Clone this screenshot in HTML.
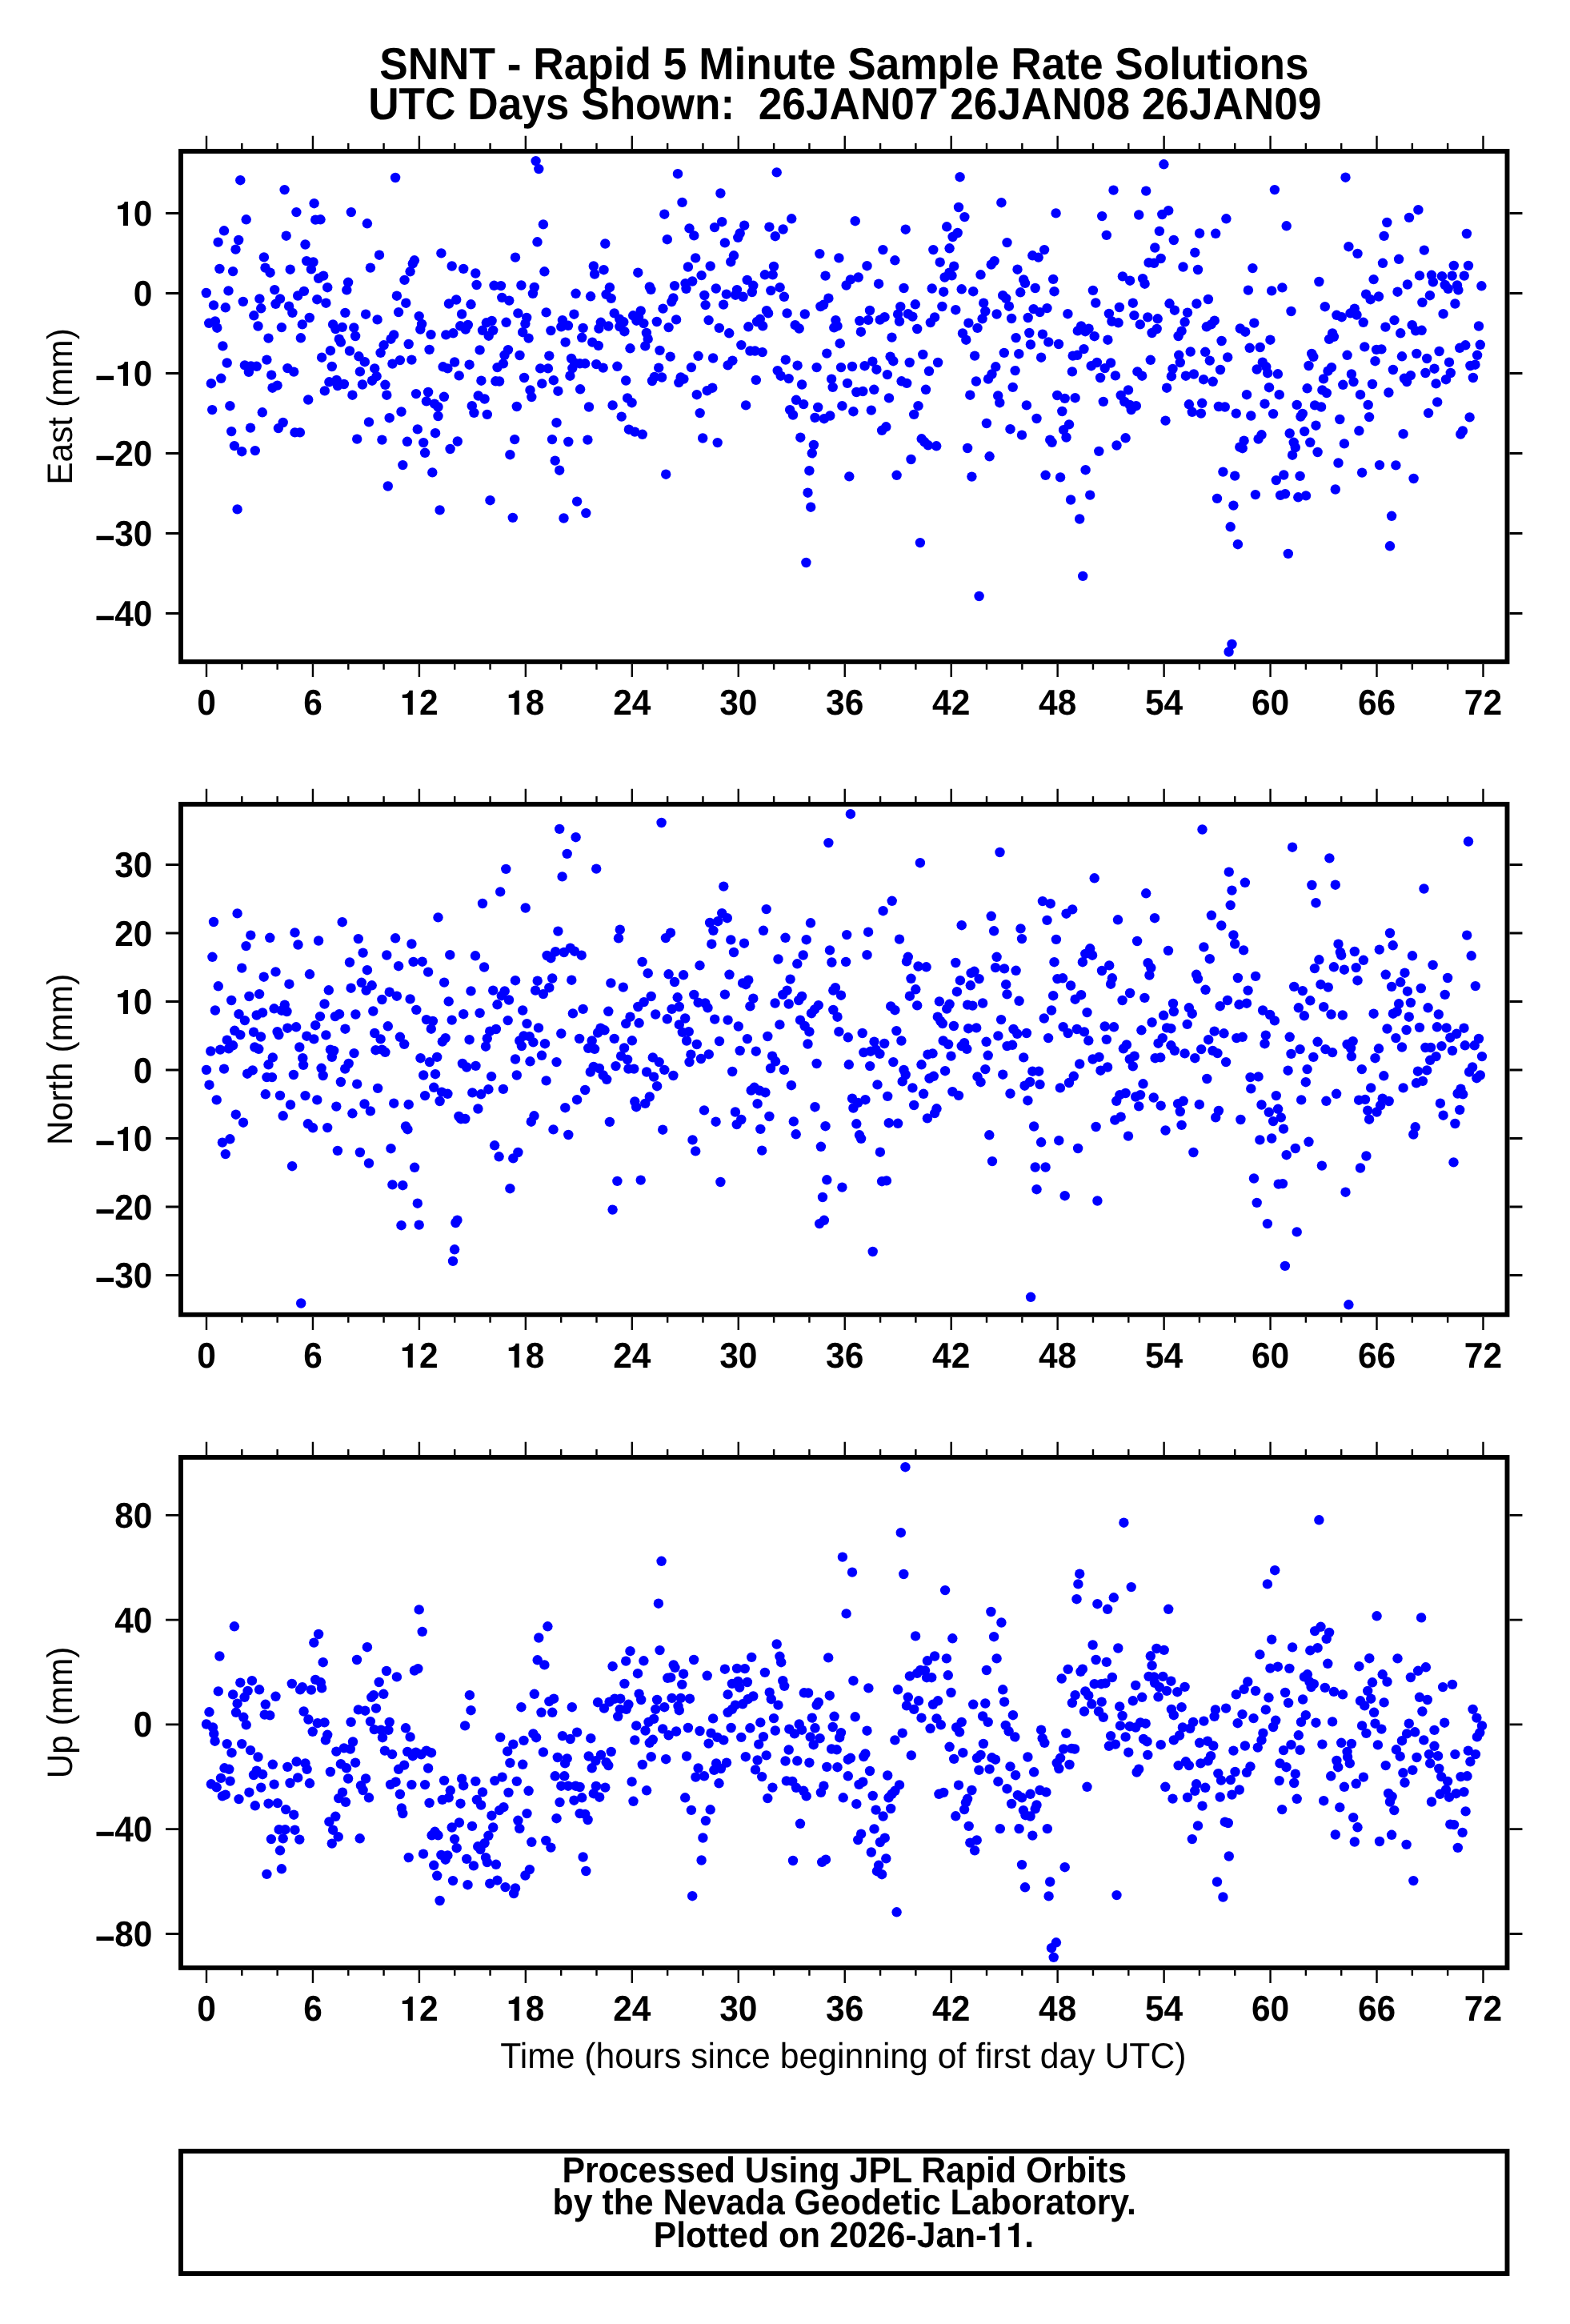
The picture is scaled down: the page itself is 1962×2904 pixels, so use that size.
<!DOCTYPE html>
<html><head><meta charset="utf-8"><title>SNNT</title>
<style>
html,body{margin:0;padding:0;background:#fff}
svg{display:block;will-change:transform}
text{text-rendering:geometricPrecision;font-family:"Liberation Sans",sans-serif;fill:#000}
.b{font-weight:bold}
.d circle{r:6.2px}
</style></head><body>
<svg width="1962" height="2904" viewBox="0 0 1962 2904">
<rect width="1962" height="2904" fill="#fff"/>
<text class="b" font-size="53.2" text-anchor="middle" transform="translate(1054.90 98.90) scale(1 1.057)">SNNT - Rapid 5 Minute Sample Rate Solutions</text>
<text class="b" font-size="53.2" text-anchor="middle" transform="translate(1055.80 148.85) scale(1 1.057)" xml:space="preserve">UTC Days Shown:  26JAN07 26JAN08 26JAN09</text>
<path d="M258.00 186.05v-16.2M258.00 829.85v16.2M302.32 186.05v-7.0M302.32 829.85v7.0M346.64 186.05v-7.0M346.64 829.85v7.0M390.96 186.05v-16.2M390.96 829.85v16.2M435.28 186.05v-7.0M435.28 829.85v7.0M479.59 186.05v-7.0M479.59 829.85v7.0M523.91 186.05v-16.2M523.91 829.85v16.2M568.23 186.05v-7.0M568.23 829.85v7.0M612.55 186.05v-7.0M612.55 829.85v7.0M656.87 186.05v-16.2M656.87 829.85v16.2M701.19 186.05v-7.0M701.19 829.85v7.0M745.51 186.05v-7.0M745.51 829.85v7.0M789.83 186.05v-16.2M789.83 829.85v16.2M834.14 186.05v-7.0M834.14 829.85v7.0M878.46 186.05v-7.0M878.46 829.85v7.0M922.78 186.05v-16.2M922.78 829.85v16.2M967.10 186.05v-7.0M967.10 829.85v7.0M1011.42 186.05v-7.0M1011.42 829.85v7.0M1055.74 186.05v-16.2M1055.74 829.85v16.2M1100.06 186.05v-7.0M1100.06 829.85v7.0M1144.38 186.05v-7.0M1144.38 829.85v7.0M1188.69 186.05v-16.2M1188.69 829.85v16.2M1233.01 186.05v-7.0M1233.01 829.85v7.0M1277.33 186.05v-7.0M1277.33 829.85v7.0M1321.65 186.05v-16.2M1321.65 829.85v16.2M1365.97 186.05v-7.0M1365.97 829.85v7.0M1410.29 186.05v-7.0M1410.29 829.85v7.0M1454.61 186.05v-16.2M1454.61 829.85v16.2M1498.93 186.05v-7.0M1498.93 829.85v7.0M1543.25 186.05v-7.0M1543.25 829.85v7.0M1587.56 186.05v-16.2M1587.56 829.85v16.2M1631.88 186.05v-7.0M1631.88 829.85v7.0M1676.20 186.05v-7.0M1676.20 829.85v7.0M1720.52 186.05v-16.2M1720.52 829.85v16.2M1764.84 186.05v-7.0M1764.84 829.85v7.0M1809.16 186.05v-7.0M1809.16 829.85v7.0M1853.48 186.05v-16.2M1853.48 829.85v16.2" stroke="#000" stroke-width="2.4" fill="none"/>
<path d="M223.05 266.50h-16M1886.45 266.50h16M223.05 366.50h-16M1886.45 366.50h16M223.05 466.50h-16M1886.45 466.50h16M223.05 566.50h-16M1886.45 566.50h16M223.05 666.50h-16M1886.45 666.50h16M223.05 766.50h-16M1886.45 766.50h16" stroke="#000" stroke-width="2.8" fill="none"/>
<g class="d" fill="#0000ff" id="p0">
<circle cx="300.3" cy="225.2" r="6.2"/>
<circle cx="494.1" cy="222.0" r="6.2"/>
<circle cx="355.6" cy="237.1" r="6.2"/>
<circle cx="392.6" cy="254.2" r="6.2"/>
<circle cx="370.4" cy="265.1" r="6.2"/>
<circle cx="438.8" cy="265.1" r="6.2"/>
<circle cx="307.7" cy="274.3" r="6.2"/>
<circle cx="394.2" cy="274.6" r="6.2"/>
<circle cx="400.5" cy="274.3" r="6.2"/>
<circle cx="458.9" cy="279.3" r="6.2"/>
<circle cx="280.0" cy="288.3" r="6.2"/>
<circle cx="357.7" cy="294.7" r="6.2"/>
<circle cx="298.2" cy="300.0" r="6.2"/>
<circle cx="272.6" cy="302.6" r="6.2"/>
<circle cx="381.5" cy="305.5" r="6.2"/>
<circle cx="294.5" cy="311.6" r="6.2"/>
<circle cx="551.4" cy="316.4" r="6.2"/>
<circle cx="474.0" cy="318.7" r="6.2"/>
<circle cx="329.9" cy="321.4" r="6.2"/>
<circle cx="644.0" cy="321.6" r="6.2"/>
<circle cx="383.1" cy="326.1" r="6.2"/>
<circle cx="391.5" cy="327.5" r="6.2"/>
<circle cx="517.9" cy="325.3" r="6.2"/>
<circle cx="515.8" cy="329.3" r="6.2"/>
<circle cx="564.7" cy="332.5" r="6.2"/>
<circle cx="274.4" cy="335.9" r="6.2"/>
<circle cx="579.2" cy="335.9" r="6.2"/>
<circle cx="462.9" cy="334.6" r="6.2"/>
<circle cx="362.7" cy="336.7" r="6.2"/>
<circle cx="331.5" cy="334.6" r="6.2"/>
<circle cx="291.1" cy="339.1" r="6.2"/>
<circle cx="337.6" cy="340.7" r="6.2"/>
<circle cx="388.9" cy="336.4" r="6.2"/>
<circle cx="512.6" cy="339.3" r="6.2"/>
<circle cx="594.3" cy="341.5" r="6.2"/>
<circle cx="404.2" cy="344.6" r="6.2"/>
<circle cx="398.1" cy="347.8" r="6.2"/>
<circle cx="505.5" cy="349.9" r="6.2"/>
<circle cx="435.1" cy="352.8" r="6.2"/>
<circle cx="595.6" cy="356.0" r="6.2"/>
<circle cx="617.5" cy="356.8" r="6.2"/>
<circle cx="626.0" cy="357.1" r="6.2"/>
<circle cx="409.2" cy="359.2" r="6.2"/>
<circle cx="343.2" cy="362.1" r="6.2"/>
<circle cx="433.3" cy="362.3" r="6.2"/>
<circle cx="285.5" cy="363.4" r="6.2"/>
<circle cx="379.9" cy="363.9" r="6.2"/>
<circle cx="257.8" cy="366.0" r="6.2"/>
<circle cx="372.2" cy="369.5" r="6.2"/>
<circle cx="495.9" cy="369.7" r="6.2"/>
<circle cx="627.3" cy="371.9" r="6.2"/>
<circle cx="636.3" cy="375.6" r="6.2"/>
<circle cx="324.4" cy="373.4" r="6.2"/>
<circle cx="350.0" cy="373.4" r="6.2"/>
<circle cx="396.3" cy="374.2" r="6.2"/>
<circle cx="570.2" cy="374.5" r="6.2"/>
<circle cx="303.8" cy="376.9" r="6.2"/>
<circle cx="407.4" cy="378.7" r="6.2"/>
<circle cx="507.3" cy="378.7" r="6.2"/>
<circle cx="344.5" cy="379.8" r="6.2"/>
<circle cx="561.0" cy="379.5" r="6.2"/>
<circle cx="588.5" cy="380.3" r="6.2"/>
<circle cx="267.0" cy="381.4" r="6.2"/>
<circle cx="361.1" cy="382.7" r="6.2"/>
<circle cx="281.8" cy="384.3" r="6.2"/>
<circle cx="326.2" cy="385.3" r="6.2"/>
<circle cx="498.1" cy="390.1" r="6.2"/>
<circle cx="431.4" cy="390.9" r="6.2"/>
<circle cx="365.4" cy="390.9" r="6.2"/>
<circle cx="457.1" cy="392.7" r="6.2"/>
<circle cx="577.1" cy="392.5" r="6.2"/>
<circle cx="317.3" cy="394.3" r="6.2"/>
<circle cx="523.7" cy="395.1" r="6.2"/>
<circle cx="386.8" cy="397.0" r="6.2"/>
<circle cx="471.6" cy="399.4" r="6.2"/>
<circle cx="268.9" cy="401.5" r="6.2"/>
<circle cx="261.2" cy="403.8" r="6.2"/>
<circle cx="614.6" cy="400.9" r="6.2"/>
<circle cx="607.8" cy="403.3" r="6.2"/>
<circle cx="632.6" cy="402.8" r="6.2"/>
<circle cx="416.1" cy="405.4" r="6.2"/>
<circle cx="377.8" cy="405.4" r="6.2"/>
<circle cx="527.1" cy="404.9" r="6.2"/>
<circle cx="584.8" cy="406.0" r="6.2"/>
<circle cx="575.2" cy="407.3" r="6.2"/>
<circle cx="322.5" cy="407.5" r="6.2"/>
<circle cx="427.7" cy="408.9" r="6.2"/>
<circle cx="442.3" cy="409.4" r="6.2"/>
<circle cx="351.9" cy="409.1" r="6.2"/>
<circle cx="271.3" cy="409.7" r="6.2"/>
<circle cx="419.3" cy="411.0" r="6.2"/>
<circle cx="581.8" cy="411.5" r="6.2"/>
<circle cx="525.3" cy="411.5" r="6.2"/>
<circle cx="603.0" cy="412.8" r="6.2"/>
<circle cx="616.2" cy="412.8" r="6.2"/>
<circle cx="492.2" cy="418.4" r="6.2"/>
<circle cx="538.5" cy="418.1" r="6.2"/>
<circle cx="557.3" cy="418.4" r="6.2"/>
<circle cx="566.3" cy="416.3" r="6.2"/>
<circle cx="444.1" cy="420.0" r="6.2"/>
<circle cx="610.7" cy="419.7" r="6.2"/>
<circle cx="335.5" cy="422.6" r="6.2"/>
<circle cx="375.9" cy="422.3" r="6.2"/>
<circle cx="488.5" cy="423.7" r="6.2"/>
<circle cx="423.8" cy="423.7" r="6.2"/>
<circle cx="425.9" cy="427.6" r="6.2"/>
<circle cx="479.6" cy="431.3" r="6.2"/>
<circle cx="510.7" cy="430.0" r="6.2"/>
<circle cx="278.4" cy="432.4" r="6.2"/>
<circle cx="536.6" cy="436.9" r="6.2"/>
<circle cx="599.6" cy="437.4" r="6.2"/>
<circle cx="412.9" cy="438.2" r="6.2"/>
<circle cx="437.0" cy="438.5" r="6.2"/>
<circle cx="635.0" cy="437.1" r="6.2"/>
<circle cx="475.6" cy="440.9" r="6.2"/>
<circle cx="630.5" cy="443.8" r="6.2"/>
<circle cx="448.4" cy="445.3" r="6.2"/>
<circle cx="402.1" cy="446.7" r="6.2"/>
<circle cx="455.8" cy="452.2" r="6.2"/>
<circle cx="333.4" cy="449.6" r="6.2"/>
<circle cx="499.9" cy="450.1" r="6.2"/>
<circle cx="514.4" cy="449.6" r="6.2"/>
<circle cx="568.1" cy="452.5" r="6.2"/>
<circle cx="283.7" cy="453.5" r="6.2"/>
<circle cx="490.4" cy="454.6" r="6.2"/>
<circle cx="586.6" cy="455.7" r="6.2"/>
<circle cx="628.9" cy="454.3" r="6.2"/>
<circle cx="621.5" cy="459.1" r="6.2"/>
<circle cx="305.9" cy="456.4" r="6.2"/>
<circle cx="313.6" cy="457.5" r="6.2"/>
<circle cx="320.7" cy="457.8" r="6.2"/>
<circle cx="414.8" cy="458.0" r="6.2"/>
<circle cx="553.6" cy="458.3" r="6.2"/>
<circle cx="559.4" cy="460.4" r="6.2"/>
<circle cx="359.3" cy="460.1" r="6.2"/>
<circle cx="468.2" cy="460.4" r="6.2"/>
<circle cx="367.2" cy="464.6" r="6.2"/>
<circle cx="310.9" cy="464.9" r="6.2"/>
<circle cx="449.9" cy="464.4" r="6.2"/>
<circle cx="339.2" cy="468.6" r="6.2"/>
<circle cx="573.7" cy="469.4" r="6.2"/>
<circle cx="470.6" cy="470.2" r="6.2"/>
<circle cx="276.3" cy="472.8" r="6.2"/>
<circle cx="465.0" cy="475.7" r="6.2"/>
<circle cx="601.4" cy="475.7" r="6.2"/>
<circle cx="619.4" cy="476.3" r="6.2"/>
<circle cx="624.1" cy="476.5" r="6.2"/>
<circle cx="411.4" cy="477.3" r="6.2"/>
<circle cx="420.6" cy="474.9" r="6.2"/>
<circle cx="263.9" cy="479.2" r="6.2"/>
<circle cx="429.9" cy="480.0" r="6.2"/>
<circle cx="421.9" cy="482.1" r="6.2"/>
<circle cx="452.9" cy="480.5" r="6.2"/>
<circle cx="481.4" cy="480.8" r="6.2"/>
<circle cx="346.6" cy="481.6" r="6.2"/>
<circle cx="340.5" cy="484.7" r="6.2"/>
<circle cx="405.8" cy="488.4" r="6.2"/>
<circle cx="535.1" cy="490.0" r="6.2"/>
<circle cx="520.0" cy="492.1" r="6.2"/>
<circle cx="440.4" cy="493.7" r="6.2"/>
<circle cx="483.3" cy="493.7" r="6.2"/>
<circle cx="554.9" cy="495.8" r="6.2"/>
<circle cx="597.7" cy="494.5" r="6.2"/>
<circle cx="605.6" cy="498.5" r="6.2"/>
<circle cx="385.2" cy="499.5" r="6.2"/>
<circle cx="532.9" cy="501.4" r="6.2"/>
<circle cx="543.0" cy="504.6" r="6.2"/>
<circle cx="547.5" cy="508.5" r="6.2"/>
<circle cx="589.8" cy="507.2" r="6.2"/>
<circle cx="265.2" cy="512.1" r="6.2"/>
<circle cx="287.4" cy="507.2" r="6.2"/>
<circle cx="669.6" cy="201.1" r="6.2"/>
<circle cx="673.3" cy="211.1" r="6.2"/>
<circle cx="847.0" cy="217.2" r="6.2"/>
<circle cx="970.7" cy="215.4" r="6.2"/>
<circle cx="900.4" cy="241.5" r="6.2"/>
<circle cx="852.5" cy="252.9" r="6.2"/>
<circle cx="830.3" cy="267.7" r="6.2"/>
<circle cx="989.2" cy="273.3" r="6.2"/>
<circle cx="678.9" cy="280.4" r="6.2"/>
<circle cx="902.2" cy="277.2" r="6.2"/>
<circle cx="893.0" cy="284.1" r="6.2"/>
<circle cx="930.2" cy="281.7" r="6.2"/>
<circle cx="861.5" cy="285.4" r="6.2"/>
<circle cx="961.4" cy="283.6" r="6.2"/>
<circle cx="978.6" cy="286.5" r="6.2"/>
<circle cx="867.3" cy="294.4" r="6.2"/>
<circle cx="924.7" cy="291.5" r="6.2"/>
<circle cx="922.3" cy="296.8" r="6.2"/>
<circle cx="968.8" cy="295.2" r="6.2"/>
<circle cx="833.8" cy="299.2" r="6.2"/>
<circle cx="671.5" cy="302.3" r="6.2"/>
<circle cx="905.9" cy="303.4" r="6.2"/>
<circle cx="756.3" cy="304.5" r="6.2"/>
<circle cx="1024.3" cy="317.1" r="6.2"/>
<circle cx="1048.4" cy="322.4" r="6.2"/>
<circle cx="917.0" cy="319.3" r="6.2"/>
<circle cx="869.2" cy="322.4" r="6.2"/>
<circle cx="913.3" cy="327.2" r="6.2"/>
<circle cx="741.8" cy="332.5" r="6.2"/>
<circle cx="887.7" cy="332.5" r="6.2"/>
<circle cx="859.9" cy="333.5" r="6.2"/>
<circle cx="967.0" cy="333.0" r="6.2"/>
<circle cx="754.5" cy="337.2" r="6.2"/>
<circle cx="680.4" cy="339.3" r="6.2"/>
<circle cx="797.3" cy="340.7" r="6.2"/>
<circle cx="743.1" cy="342.5" r="6.2"/>
<circle cx="955.9" cy="343.3" r="6.2"/>
<circle cx="965.7" cy="343.3" r="6.2"/>
<circle cx="876.6" cy="344.1" r="6.2"/>
<circle cx="1031.5" cy="344.6" r="6.2"/>
<circle cx="933.7" cy="349.9" r="6.2"/>
<circle cx="865.2" cy="351.5" r="6.2"/>
<circle cx="856.5" cy="354.1" r="6.2"/>
<circle cx="651.4" cy="356.5" r="6.2"/>
<circle cx="843.0" cy="357.1" r="6.2"/>
<circle cx="667.8" cy="358.9" r="6.2"/>
<circle cx="761.9" cy="359.2" r="6.2"/>
<circle cx="811.8" cy="358.4" r="6.2"/>
<circle cx="941.3" cy="356.8" r="6.2"/>
<circle cx="1057.6" cy="356.5" r="6.2"/>
<circle cx="974.6" cy="359.2" r="6.2"/>
<circle cx="894.8" cy="360.5" r="6.2"/>
<circle cx="813.4" cy="361.8" r="6.2"/>
<circle cx="857.5" cy="360.8" r="6.2"/>
<circle cx="921.0" cy="362.1" r="6.2"/>
<circle cx="963.3" cy="363.1" r="6.2"/>
<circle cx="939.8" cy="365.0" r="6.2"/>
<circle cx="719.6" cy="366.8" r="6.2"/>
<circle cx="665.9" cy="366.8" r="6.2"/>
<circle cx="907.8" cy="367.6" r="6.2"/>
<circle cx="757.6" cy="367.9" r="6.2"/>
<circle cx="880.3" cy="369.0" r="6.2"/>
<circle cx="738.1" cy="370.3" r="6.2"/>
<circle cx="919.1" cy="368.7" r="6.2"/>
<circle cx="928.6" cy="370.8" r="6.2"/>
<circle cx="979.9" cy="370.8" r="6.2"/>
<circle cx="763.7" cy="372.9" r="6.2"/>
<circle cx="1035.4" cy="372.7" r="6.2"/>
<circle cx="841.4" cy="372.4" r="6.2"/>
<circle cx="839.3" cy="377.1" r="6.2"/>
<circle cx="881.6" cy="381.1" r="6.2"/>
<circle cx="904.1" cy="380.6" r="6.2"/>
<circle cx="1029.1" cy="380.8" r="6.2"/>
<circle cx="1025.4" cy="383.0" r="6.2"/>
<circle cx="828.5" cy="385.6" r="6.2"/>
<circle cx="800.7" cy="388.5" r="6.2"/>
<circle cx="958.0" cy="388.2" r="6.2"/>
<circle cx="647.4" cy="391.4" r="6.2"/>
<circle cx="682.6" cy="390.4" r="6.2"/>
<circle cx="767.7" cy="391.4" r="6.2"/>
<circle cx="960.1" cy="391.4" r="6.2"/>
<circle cx="983.6" cy="391.4" r="6.2"/>
<circle cx="1005.8" cy="392.5" r="6.2"/>
<circle cx="717.4" cy="392.7" r="6.2"/>
<circle cx="791.2" cy="394.3" r="6.2"/>
<circle cx="658.2" cy="397.0" r="6.2"/>
<circle cx="798.1" cy="396.2" r="6.2"/>
<circle cx="845.1" cy="399.4" r="6.2"/>
<circle cx="885.6" cy="400.1" r="6.2"/>
<circle cx="702.9" cy="400.1" r="6.2"/>
<circle cx="1044.4" cy="400.1" r="6.2"/>
<circle cx="795.4" cy="400.7" r="6.2"/>
<circle cx="774.3" cy="398.8" r="6.2"/>
<circle cx="949.8" cy="398.8" r="6.2"/>
<circle cx="750.8" cy="402.8" r="6.2"/>
<circle cx="779.3" cy="402.3" r="6.2"/>
<circle cx="820.8" cy="402.0" r="6.2"/>
<circle cx="946.1" cy="402.0" r="6.2"/>
<circle cx="804.4" cy="404.1" r="6.2"/>
<circle cx="656.4" cy="404.6" r="6.2"/>
<circle cx="993.7" cy="406.2" r="6.2"/>
<circle cx="710.0" cy="406.8" r="6.2"/>
<circle cx="701.3" cy="408.3" r="6.2"/>
<circle cx="760.3" cy="407.5" r="6.2"/>
<circle cx="935.3" cy="408.3" r="6.2"/>
<circle cx="953.2" cy="407.3" r="6.2"/>
<circle cx="774.3" cy="408.1" r="6.2"/>
<circle cx="1046.5" cy="407.3" r="6.2"/>
<circle cx="1042.3" cy="409.4" r="6.2"/>
<circle cx="728.6" cy="409.9" r="6.2"/>
<circle cx="748.4" cy="410.5" r="6.2"/>
<circle cx="835.6" cy="409.1" r="6.2"/>
<circle cx="898.8" cy="409.9" r="6.2"/>
<circle cx="998.7" cy="410.5" r="6.2"/>
<circle cx="688.4" cy="413.1" r="6.2"/>
<circle cx="780.4" cy="414.2" r="6.2"/>
<circle cx="653.2" cy="415.2" r="6.2"/>
<circle cx="911.2" cy="416.3" r="6.2"/>
<circle cx="807.9" cy="416.0" r="6.2"/>
<circle cx="727.2" cy="421.8" r="6.2"/>
<circle cx="660.6" cy="422.6" r="6.2"/>
<circle cx="809.7" cy="423.7" r="6.2"/>
<circle cx="740.2" cy="427.6" r="6.2"/>
<circle cx="706.6" cy="427.6" r="6.2"/>
<circle cx="747.8" cy="431.9" r="6.2"/>
<circle cx="1049.7" cy="429.2" r="6.2"/>
<circle cx="806.3" cy="432.4" r="6.2"/>
<circle cx="926.3" cy="431.1" r="6.2"/>
<circle cx="787.5" cy="435.3" r="6.2"/>
<circle cx="824.5" cy="437.9" r="6.2"/>
<circle cx="937.4" cy="438.5" r="6.2"/>
<circle cx="943.5" cy="438.5" r="6.2"/>
<circle cx="952.7" cy="440.1" r="6.2"/>
<circle cx="1033.3" cy="441.6" r="6.2"/>
<circle cx="649.5" cy="444.0" r="6.2"/>
<circle cx="686.3" cy="444.6" r="6.2"/>
<circle cx="872.6" cy="444.8" r="6.2"/>
<circle cx="837.7" cy="445.6" r="6.2"/>
<circle cx="891.1" cy="447.5" r="6.2"/>
<circle cx="714.0" cy="448.0" r="6.2"/>
<circle cx="981.8" cy="449.6" r="6.2"/>
<circle cx="915.4" cy="450.6" r="6.2"/>
<circle cx="718.2" cy="453.5" r="6.2"/>
<circle cx="724.6" cy="454.3" r="6.2"/>
<circle cx="731.2" cy="454.3" r="6.2"/>
<circle cx="745.2" cy="455.1" r="6.2"/>
<circle cx="909.6" cy="456.4" r="6.2"/>
<circle cx="996.6" cy="456.7" r="6.2"/>
<circle cx="771.4" cy="457.8" r="6.2"/>
<circle cx="753.7" cy="459.6" r="6.2"/>
<circle cx="823.2" cy="459.6" r="6.2"/>
<circle cx="863.9" cy="459.1" r="6.2"/>
<circle cx="675.2" cy="460.4" r="6.2"/>
<circle cx="684.9" cy="460.4" r="6.2"/>
<circle cx="715.3" cy="460.1" r="6.2"/>
<circle cx="1020.6" cy="459.1" r="6.2"/>
<circle cx="1051.0" cy="459.1" r="6.2"/>
<circle cx="971.7" cy="463.1" r="6.2"/>
<circle cx="712.4" cy="469.7" r="6.2"/>
<circle cx="975.7" cy="469.7" r="6.2"/>
<circle cx="817.9" cy="471.0" r="6.2"/>
<circle cx="827.1" cy="471.5" r="6.2"/>
<circle cx="850.7" cy="471.5" r="6.2"/>
<circle cx="854.4" cy="473.6" r="6.2"/>
<circle cx="655.1" cy="472.0" r="6.2"/>
<circle cx="985.7" cy="473.1" r="6.2"/>
<circle cx="1039.1" cy="473.6" r="6.2"/>
<circle cx="691.8" cy="475.2" r="6.2"/>
<circle cx="782.2" cy="475.5" r="6.2"/>
<circle cx="815.0" cy="476.0" r="6.2"/>
<circle cx="944.8" cy="474.9" r="6.2"/>
<circle cx="848.3" cy="478.1" r="6.2"/>
<circle cx="677.3" cy="479.4" r="6.2"/>
<circle cx="1002.1" cy="480.5" r="6.2"/>
<circle cx="1040.7" cy="483.9" r="6.2"/>
<circle cx="890.3" cy="484.7" r="6.2"/>
<circle cx="725.1" cy="486.3" r="6.2"/>
<circle cx="883.7" cy="488.2" r="6.2"/>
<circle cx="662.5" cy="487.4" r="6.2"/>
<circle cx="697.4" cy="488.7" r="6.2"/>
<circle cx="870.8" cy="493.2" r="6.2"/>
<circle cx="664.3" cy="496.1" r="6.2"/>
<circle cx="784.1" cy="497.4" r="6.2"/>
<circle cx="789.6" cy="503.2" r="6.2"/>
<circle cx="995.0" cy="499.8" r="6.2"/>
<circle cx="1004.2" cy="505.1" r="6.2"/>
<circle cx="932.1" cy="506.4" r="6.2"/>
<circle cx="765.6" cy="506.4" r="6.2"/>
<circle cx="736.0" cy="508.5" r="6.2"/>
<circle cx="645.8" cy="508.0" r="6.2"/>
<circle cx="1022.2" cy="509.0" r="6.2"/>
<circle cx="987.1" cy="512.1" r="6.2"/>
<circle cx="1052.4" cy="507.2" r="6.2"/>
<circle cx="1454.4" cy="205.3" r="6.2"/>
<circle cx="1199.6" cy="221.2" r="6.2"/>
<circle cx="1391.5" cy="237.6" r="6.2"/>
<circle cx="1432.2" cy="238.6" r="6.2"/>
<circle cx="1251.4" cy="253.2" r="6.2"/>
<circle cx="1198.0" cy="259.0" r="6.2"/>
<circle cx="1319.6" cy="266.4" r="6.2"/>
<circle cx="1460.2" cy="263.2" r="6.2"/>
<circle cx="1452.3" cy="268.0" r="6.2"/>
<circle cx="1423.2" cy="268.5" r="6.2"/>
<circle cx="1377.2" cy="270.1" r="6.2"/>
<circle cx="1205.4" cy="271.1" r="6.2"/>
<circle cx="1068.7" cy="276.2" r="6.2"/>
<circle cx="1183.2" cy="283.3" r="6.2"/>
<circle cx="1131.7" cy="286.7" r="6.2"/>
<circle cx="1448.9" cy="288.9" r="6.2"/>
<circle cx="1196.7" cy="291.0" r="6.2"/>
<circle cx="1190.6" cy="296.0" r="6.2"/>
<circle cx="1382.8" cy="293.9" r="6.2"/>
<circle cx="1466.8" cy="300.0" r="6.2"/>
<circle cx="1258.5" cy="303.1" r="6.2"/>
<circle cx="1443.3" cy="309.5" r="6.2"/>
<circle cx="1186.6" cy="310.3" r="6.2"/>
<circle cx="1103.4" cy="312.1" r="6.2"/>
<circle cx="1166.3" cy="312.1" r="6.2"/>
<circle cx="1305.1" cy="312.1" r="6.2"/>
<circle cx="1290.3" cy="319.3" r="6.2"/>
<circle cx="1297.7" cy="321.6" r="6.2"/>
<circle cx="1450.7" cy="323.0" r="6.2"/>
<circle cx="1118.4" cy="325.3" r="6.2"/>
<circle cx="1242.7" cy="326.1" r="6.2"/>
<circle cx="1174.7" cy="327.7" r="6.2"/>
<circle cx="1435.6" cy="328.2" r="6.2"/>
<circle cx="1442.2" cy="328.8" r="6.2"/>
<circle cx="1238.7" cy="330.6" r="6.2"/>
<circle cx="1083.5" cy="332.2" r="6.2"/>
<circle cx="1192.2" cy="332.7" r="6.2"/>
<circle cx="1271.5" cy="336.7" r="6.2"/>
<circle cx="1186.4" cy="340.7" r="6.2"/>
<circle cx="1225.5" cy="343.3" r="6.2"/>
<circle cx="1189.5" cy="344.4" r="6.2"/>
<circle cx="1180.6" cy="346.5" r="6.2"/>
<circle cx="1072.7" cy="346.5" r="6.2"/>
<circle cx="1402.9" cy="345.4" r="6.2"/>
<circle cx="1428.0" cy="348.1" r="6.2"/>
<circle cx="1062.9" cy="349.4" r="6.2"/>
<circle cx="1316.2" cy="348.9" r="6.2"/>
<circle cx="1279.2" cy="349.4" r="6.2"/>
<circle cx="1412.1" cy="350.7" r="6.2"/>
<circle cx="1281.0" cy="353.9" r="6.2"/>
<circle cx="1098.1" cy="354.7" r="6.2"/>
<circle cx="1430.6" cy="354.7" r="6.2"/>
<circle cx="1129.5" cy="360.0" r="6.2"/>
<circle cx="1293.7" cy="360.0" r="6.2"/>
<circle cx="1164.7" cy="360.5" r="6.2"/>
<circle cx="1201.7" cy="361.3" r="6.2"/>
<circle cx="1365.9" cy="362.9" r="6.2"/>
<circle cx="1179.2" cy="364.7" r="6.2"/>
<circle cx="1216.2" cy="364.2" r="6.2"/>
<circle cx="1317.5" cy="364.2" r="6.2"/>
<circle cx="1275.2" cy="365.3" r="6.2"/>
<circle cx="1253.2" cy="369.2" r="6.2"/>
<circle cx="1257.2" cy="372.9" r="6.2"/>
<circle cx="1369.3" cy="378.5" r="6.2"/>
<circle cx="1229.2" cy="378.7" r="6.2"/>
<circle cx="1415.8" cy="378.7" r="6.2"/>
<circle cx="1461.5" cy="379.3" r="6.2"/>
<circle cx="1143.8" cy="380.3" r="6.2"/>
<circle cx="1260.9" cy="382.7" r="6.2"/>
<circle cx="1125.3" cy="383.2" r="6.2"/>
<circle cx="1177.4" cy="383.0" r="6.2"/>
<circle cx="1398.9" cy="384.0" r="6.2"/>
<circle cx="1308.5" cy="385.1" r="6.2"/>
<circle cx="1291.6" cy="386.1" r="6.2"/>
<circle cx="1194.3" cy="387.2" r="6.2"/>
<circle cx="1087.0" cy="388.0" r="6.2"/>
<circle cx="1467.9" cy="387.7" r="6.2"/>
<circle cx="1299.5" cy="390.1" r="6.2"/>
<circle cx="1231.3" cy="389.0" r="6.2"/>
<circle cx="1385.9" cy="391.9" r="6.2"/>
<circle cx="1334.4" cy="392.2" r="6.2"/>
<circle cx="1122.1" cy="392.7" r="6.2"/>
<circle cx="1245.6" cy="392.5" r="6.2"/>
<circle cx="1134.8" cy="392.2" r="6.2"/>
<circle cx="1140.4" cy="395.6" r="6.2"/>
<circle cx="1105.5" cy="396.2" r="6.2"/>
<circle cx="1168.1" cy="396.4" r="6.2"/>
<circle cx="1417.4" cy="394.1" r="6.2"/>
<circle cx="1434.3" cy="396.4" r="6.2"/>
<circle cx="1284.7" cy="397.0" r="6.2"/>
<circle cx="1099.7" cy="399.6" r="6.2"/>
<circle cx="1264.1" cy="398.0" r="6.2"/>
<circle cx="1227.6" cy="398.3" r="6.2"/>
<circle cx="1446.7" cy="398.3" r="6.2"/>
<circle cx="1085.1" cy="399.9" r="6.2"/>
<circle cx="1074.3" cy="400.9" r="6.2"/>
<circle cx="1124.0" cy="401.5" r="6.2"/>
<circle cx="1389.4" cy="401.5" r="6.2"/>
<circle cx="1397.6" cy="403.3" r="6.2"/>
<circle cx="1162.8" cy="403.1" r="6.2"/>
<circle cx="1210.4" cy="403.6" r="6.2"/>
<circle cx="1424.8" cy="405.4" r="6.2"/>
<circle cx="1351.1" cy="407.5" r="6.2"/>
<circle cx="1360.6" cy="410.7" r="6.2"/>
<circle cx="1221.5" cy="409.9" r="6.2"/>
<circle cx="1146.2" cy="411.0" r="6.2"/>
<circle cx="1445.7" cy="411.0" r="6.2"/>
<circle cx="1346.8" cy="413.4" r="6.2"/>
<circle cx="1075.9" cy="414.7" r="6.2"/>
<circle cx="1356.3" cy="414.2" r="6.2"/>
<circle cx="1439.6" cy="416.0" r="6.2"/>
<circle cx="1203.0" cy="416.5" r="6.2"/>
<circle cx="1286.3" cy="416.0" r="6.2"/>
<circle cx="1302.9" cy="417.6" r="6.2"/>
<circle cx="1367.7" cy="420.2" r="6.2"/>
<circle cx="1114.5" cy="421.6" r="6.2"/>
<circle cx="1269.6" cy="422.1" r="6.2"/>
<circle cx="1472.6" cy="420.0" r="6.2"/>
<circle cx="1207.3" cy="424.7" r="6.2"/>
<circle cx="1384.4" cy="424.7" r="6.2"/>
<circle cx="1310.3" cy="427.4" r="6.2"/>
<circle cx="1323.0" cy="430.0" r="6.2"/>
<circle cx="1287.9" cy="430.5" r="6.2"/>
<circle cx="1354.5" cy="436.1" r="6.2"/>
<circle cx="1254.8" cy="440.9" r="6.2"/>
<circle cx="1273.3" cy="442.2" r="6.2"/>
<circle cx="1153.3" cy="443.0" r="6.2"/>
<circle cx="1218.1" cy="444.6" r="6.2"/>
<circle cx="1340.7" cy="444.6" r="6.2"/>
<circle cx="1346.3" cy="443.8" r="6.2"/>
<circle cx="1112.6" cy="445.6" r="6.2"/>
<circle cx="1301.1" cy="446.7" r="6.2"/>
<circle cx="1116.3" cy="451.2" r="6.2"/>
<circle cx="1437.8" cy="449.8" r="6.2"/>
<circle cx="1090.4" cy="451.7" r="6.2"/>
<circle cx="1136.7" cy="453.0" r="6.2"/>
<circle cx="1172.1" cy="453.0" r="6.2"/>
<circle cx="1370.9" cy="453.0" r="6.2"/>
<circle cx="1388.1" cy="453.5" r="6.2"/>
<circle cx="1065.0" cy="458.0" r="6.2"/>
<circle cx="1080.6" cy="457.2" r="6.2"/>
<circle cx="1244.3" cy="458.3" r="6.2"/>
<circle cx="1363.7" cy="457.2" r="6.2"/>
<circle cx="1380.7" cy="460.1" r="6.2"/>
<circle cx="1465.5" cy="460.9" r="6.2"/>
<circle cx="1095.4" cy="461.7" r="6.2"/>
<circle cx="1268.6" cy="463.1" r="6.2"/>
<circle cx="1161.0" cy="463.8" r="6.2"/>
<circle cx="1339.9" cy="464.4" r="6.2"/>
<circle cx="1421.4" cy="464.4" r="6.2"/>
<circle cx="1239.5" cy="467.5" r="6.2"/>
<circle cx="1108.9" cy="468.1" r="6.2"/>
<circle cx="1393.9" cy="469.4" r="6.2"/>
<circle cx="1427.2" cy="469.7" r="6.2"/>
<circle cx="1463.9" cy="470.2" r="6.2"/>
<circle cx="1375.1" cy="472.0" r="6.2"/>
<circle cx="1235.0" cy="473.6" r="6.2"/>
<circle cx="1219.9" cy="476.5" r="6.2"/>
<circle cx="1126.6" cy="476.3" r="6.2"/>
<circle cx="1133.2" cy="478.9" r="6.2"/>
<circle cx="1059.0" cy="478.9" r="6.2"/>
<circle cx="1265.7" cy="483.9" r="6.2"/>
<circle cx="1458.1" cy="484.7" r="6.2"/>
<circle cx="1092.3" cy="486.8" r="6.2"/>
<circle cx="1157.0" cy="486.8" r="6.2"/>
<circle cx="1410.0" cy="487.4" r="6.2"/>
<circle cx="1070.3" cy="490.0" r="6.2"/>
<circle cx="1078.3" cy="489.0" r="6.2"/>
<circle cx="1212.3" cy="493.7" r="6.2"/>
<circle cx="1247.2" cy="494.5" r="6.2"/>
<circle cx="1321.2" cy="494.0" r="6.2"/>
<circle cx="1400.7" cy="494.0" r="6.2"/>
<circle cx="1111.0" cy="497.4" r="6.2"/>
<circle cx="1330.7" cy="497.9" r="6.2"/>
<circle cx="1343.6" cy="497.2" r="6.2"/>
<circle cx="1378.8" cy="501.9" r="6.2"/>
<circle cx="1249.3" cy="503.2" r="6.2"/>
<circle cx="1405.2" cy="501.9" r="6.2"/>
<circle cx="1147.5" cy="507.2" r="6.2"/>
<circle cx="1282.9" cy="506.4" r="6.2"/>
<circle cx="1411.8" cy="505.9" r="6.2"/>
<circle cx="1419.8" cy="507.2" r="6.2"/>
<circle cx="1088.8" cy="512.6" r="6.2"/>
<circle cx="1681.5" cy="221.7" r="6.2"/>
<circle cx="1592.9" cy="237.1" r="6.2"/>
<circle cx="1772.4" cy="262.2" r="6.2"/>
<circle cx="1761.0" cy="271.9" r="6.2"/>
<circle cx="1532.4" cy="273.3" r="6.2"/>
<circle cx="1733.3" cy="278.0" r="6.2"/>
<circle cx="1607.7" cy="282.3" r="6.2"/>
<circle cx="1499.1" cy="291.5" r="6.2"/>
<circle cx="1519.2" cy="291.8" r="6.2"/>
<circle cx="1832.9" cy="292.0" r="6.2"/>
<circle cx="1729.6" cy="294.9" r="6.2"/>
<circle cx="1685.4" cy="308.2" r="6.2"/>
<circle cx="1779.8" cy="312.6" r="6.2"/>
<circle cx="1493.3" cy="315.6" r="6.2"/>
<circle cx="1696.5" cy="316.9" r="6.2"/>
<circle cx="1748.1" cy="323.8" r="6.2"/>
<circle cx="1728.0" cy="328.8" r="6.2"/>
<circle cx="1816.8" cy="331.9" r="6.2"/>
<circle cx="1835.0" cy="331.9" r="6.2"/>
<circle cx="1478.5" cy="333.5" r="6.2"/>
<circle cx="1565.4" cy="335.1" r="6.2"/>
<circle cx="1497.0" cy="337.0" r="6.2"/>
<circle cx="1774.0" cy="344.4" r="6.2"/>
<circle cx="1789.0" cy="343.8" r="6.2"/>
<circle cx="1802.0" cy="345.2" r="6.2"/>
<circle cx="1814.7" cy="344.6" r="6.2"/>
<circle cx="1829.8" cy="344.6" r="6.2"/>
<circle cx="1716.6" cy="349.1" r="6.2"/>
<circle cx="1648.4" cy="352.0" r="6.2"/>
<circle cx="1790.9" cy="352.3" r="6.2"/>
<circle cx="1758.9" cy="355.5" r="6.2"/>
<circle cx="1805.7" cy="356.0" r="6.2"/>
<circle cx="1821.0" cy="356.5" r="6.2"/>
<circle cx="1851.4" cy="357.3" r="6.2"/>
<circle cx="1602.4" cy="359.4" r="6.2"/>
<circle cx="1809.7" cy="360.8" r="6.2"/>
<circle cx="1559.9" cy="362.6" r="6.2"/>
<circle cx="1589.2" cy="363.4" r="6.2"/>
<circle cx="1822.4" cy="362.3" r="6.2"/>
<circle cx="1746.5" cy="364.7" r="6.2"/>
<circle cx="1707.1" cy="367.6" r="6.2"/>
<circle cx="1786.9" cy="369.2" r="6.2"/>
<circle cx="1723.0" cy="370.5" r="6.2"/>
<circle cx="1509.9" cy="374.0" r="6.2"/>
<circle cx="1712.7" cy="374.2" r="6.2"/>
<circle cx="1777.4" cy="377.9" r="6.2"/>
<circle cx="1495.4" cy="379.5" r="6.2"/>
<circle cx="1818.4" cy="379.5" r="6.2"/>
<circle cx="1655.8" cy="383.2" r="6.2"/>
<circle cx="1692.8" cy="385.6" r="6.2"/>
<circle cx="1613.5" cy="389.0" r="6.2"/>
<circle cx="1484.0" cy="390.6" r="6.2"/>
<circle cx="1687.5" cy="391.4" r="6.2"/>
<circle cx="1803.6" cy="392.2" r="6.2"/>
<circle cx="1670.4" cy="393.8" r="6.2"/>
<circle cx="1695.5" cy="393.5" r="6.2"/>
<circle cx="1676.7" cy="396.2" r="6.2"/>
<circle cx="1742.5" cy="400.1" r="6.2"/>
<circle cx="1517.8" cy="400.7" r="6.2"/>
<circle cx="1480.6" cy="402.3" r="6.2"/>
<circle cx="1703.7" cy="402.8" r="6.2"/>
<circle cx="1567.3" cy="403.6" r="6.2"/>
<circle cx="1513.6" cy="405.4" r="6.2"/>
<circle cx="1764.7" cy="406.2" r="6.2"/>
<circle cx="1848.0" cy="407.5" r="6.2"/>
<circle cx="1507.8" cy="408.3" r="6.2"/>
<circle cx="1731.4" cy="408.6" r="6.2"/>
<circle cx="1549.8" cy="410.5" r="6.2"/>
<circle cx="1769.2" cy="413.4" r="6.2"/>
<circle cx="1776.6" cy="412.8" r="6.2"/>
<circle cx="1476.6" cy="413.6" r="6.2"/>
<circle cx="1556.2" cy="414.7" r="6.2"/>
<circle cx="1665.1" cy="416.5" r="6.2"/>
<circle cx="1750.2" cy="416.3" r="6.2"/>
<circle cx="1666.9" cy="420.8" r="6.2"/>
<circle cx="1661.1" cy="423.9" r="6.2"/>
<circle cx="1587.4" cy="424.7" r="6.2"/>
<circle cx="1526.6" cy="426.0" r="6.2"/>
<circle cx="1849.8" cy="430.8" r="6.2"/>
<circle cx="1831.3" cy="431.3" r="6.2"/>
<circle cx="1705.3" cy="433.4" r="6.2"/>
<circle cx="1824.2" cy="434.8" r="6.2"/>
<circle cx="1561.7" cy="434.8" r="6.2"/>
<circle cx="1574.7" cy="434.0" r="6.2"/>
<circle cx="1720.1" cy="436.9" r="6.2"/>
<circle cx="1726.4" cy="436.4" r="6.2"/>
<circle cx="1798.6" cy="439.0" r="6.2"/>
<circle cx="1487.7" cy="439.5" r="6.2"/>
<circle cx="1506.2" cy="439.8" r="6.2"/>
<circle cx="1639.2" cy="441.9" r="6.2"/>
<circle cx="1770.3" cy="441.9" r="6.2"/>
<circle cx="1473.2" cy="443.8" r="6.2"/>
<circle cx="1683.6" cy="443.8" r="6.2"/>
<circle cx="1846.1" cy="443.8" r="6.2"/>
<circle cx="1752.0" cy="445.3" r="6.2"/>
<circle cx="1641.3" cy="445.9" r="6.2"/>
<circle cx="1534.2" cy="446.4" r="6.2"/>
<circle cx="1783.2" cy="448.0" r="6.2"/>
<circle cx="1511.8" cy="450.6" r="6.2"/>
<circle cx="1718.5" cy="451.2" r="6.2"/>
<circle cx="1577.8" cy="452.7" r="6.2"/>
<circle cx="1474.8" cy="453.0" r="6.2"/>
<circle cx="1811.0" cy="452.7" r="6.2"/>
<circle cx="1843.5" cy="455.7" r="6.2"/>
<circle cx="1837.4" cy="457.0" r="6.2"/>
<circle cx="1635.5" cy="457.0" r="6.2"/>
<circle cx="1664.0" cy="459.1" r="6.2"/>
<circle cx="1582.3" cy="458.3" r="6.2"/>
<circle cx="1792.5" cy="460.7" r="6.2"/>
<circle cx="1570.7" cy="461.5" r="6.2"/>
<circle cx="1525.0" cy="462.0" r="6.2"/>
<circle cx="1740.9" cy="462.0" r="6.2"/>
<circle cx="1659.5" cy="463.6" r="6.2"/>
<circle cx="1812.8" cy="466.0" r="6.2"/>
<circle cx="1781.4" cy="466.0" r="6.2"/>
<circle cx="1584.2" cy="466.2" r="6.2"/>
<circle cx="1596.9" cy="467.3" r="6.2"/>
<circle cx="1688.9" cy="467.5" r="6.2"/>
<circle cx="1491.9" cy="467.5" r="6.2"/>
<circle cx="1481.9" cy="469.7" r="6.2"/>
<circle cx="1762.9" cy="469.1" r="6.2"/>
<circle cx="1840.9" cy="472.0" r="6.2"/>
<circle cx="1654.0" cy="473.4" r="6.2"/>
<circle cx="1754.9" cy="472.8" r="6.2"/>
<circle cx="1504.1" cy="474.2" r="6.2"/>
<circle cx="1807.0" cy="474.2" r="6.2"/>
<circle cx="1515.7" cy="476.8" r="6.2"/>
<circle cx="1691.5" cy="477.1" r="6.2"/>
<circle cx="1758.1" cy="477.1" r="6.2"/>
<circle cx="1794.6" cy="479.4" r="6.2"/>
<circle cx="1715.0" cy="480.0" r="6.2"/>
<circle cx="1678.3" cy="480.8" r="6.2"/>
<circle cx="1586.0" cy="484.2" r="6.2"/>
<circle cx="1633.6" cy="485.3" r="6.2"/>
<circle cx="1652.4" cy="487.4" r="6.2"/>
<circle cx="1735.4" cy="490.5" r="6.2"/>
<circle cx="1657.9" cy="491.1" r="6.2"/>
<circle cx="1558.0" cy="493.2" r="6.2"/>
<circle cx="1598.7" cy="493.2" r="6.2"/>
<circle cx="1700.0" cy="493.2" r="6.2"/>
<circle cx="1796.2" cy="502.4" r="6.2"/>
<circle cx="1502.2" cy="503.8" r="6.2"/>
<circle cx="1485.9" cy="505.3" r="6.2"/>
<circle cx="1580.5" cy="504.6" r="6.2"/>
<circle cx="1620.7" cy="505.9" r="6.2"/>
<circle cx="1643.1" cy="506.4" r="6.2"/>
<circle cx="1651.1" cy="508.5" r="6.2"/>
<circle cx="1709.7" cy="505.9" r="6.2"/>
<circle cx="1522.9" cy="508.0" r="6.2"/>
<circle cx="1530.8" cy="508.5" r="6.2"/>
<circle cx="327.8" cy="515.3" r="6.2"/>
<circle cx="501.5" cy="514.5" r="6.2"/>
<circle cx="547.5" cy="520.0" r="6.2"/>
<circle cx="592.4" cy="515.8" r="6.2"/>
<circle cx="608.8" cy="517.9" r="6.2"/>
<circle cx="486.7" cy="522.2" r="6.2"/>
<circle cx="353.7" cy="528.0" r="6.2"/>
<circle cx="461.0" cy="527.4" r="6.2"/>
<circle cx="313.0" cy="534.6" r="6.2"/>
<circle cx="347.9" cy="535.1" r="6.2"/>
<circle cx="521.8" cy="536.4" r="6.2"/>
<circle cx="289.2" cy="539.1" r="6.2"/>
<circle cx="368.5" cy="540.4" r="6.2"/>
<circle cx="374.9" cy="540.4" r="6.2"/>
<circle cx="544.0" cy="541.2" r="6.2"/>
<circle cx="446.2" cy="548.6" r="6.2"/>
<circle cx="477.4" cy="549.6" r="6.2"/>
<circle cx="643.2" cy="549.1" r="6.2"/>
<circle cx="508.9" cy="551.8" r="6.2"/>
<circle cx="571.8" cy="551.5" r="6.2"/>
<circle cx="529.2" cy="553.1" r="6.2"/>
<circle cx="292.9" cy="557.1" r="6.2"/>
<circle cx="562.6" cy="561.0" r="6.2"/>
<circle cx="302.2" cy="564.2" r="6.2"/>
<circle cx="318.8" cy="563.1" r="6.2"/>
<circle cx="531.1" cy="565.8" r="6.2"/>
<circle cx="637.4" cy="568.2" r="6.2"/>
<circle cx="503.3" cy="581.1" r="6.2"/>
<circle cx="540.3" cy="590.4" r="6.2"/>
<circle cx="484.8" cy="607.5" r="6.2"/>
<circle cx="612.5" cy="625.2" r="6.2"/>
<circle cx="296.6" cy="636.4" r="6.2"/>
<circle cx="549.6" cy="637.4" r="6.2"/>
<circle cx="991.0" cy="518.5" r="6.2"/>
<circle cx="1018.5" cy="521.9" r="6.2"/>
<circle cx="1029.9" cy="523.2" r="6.2"/>
<circle cx="1037.3" cy="519.5" r="6.2"/>
<circle cx="874.7" cy="516.1" r="6.2"/>
<circle cx="776.7" cy="520.6" r="6.2"/>
<circle cx="695.5" cy="528.2" r="6.2"/>
<circle cx="785.9" cy="536.7" r="6.2"/>
<circle cx="793.3" cy="539.6" r="6.2"/>
<circle cx="802.8" cy="542.8" r="6.2"/>
<circle cx="690.0" cy="549.1" r="6.2"/>
<circle cx="710.3" cy="552.0" r="6.2"/>
<circle cx="734.4" cy="549.6" r="6.2"/>
<circle cx="878.2" cy="547.5" r="6.2"/>
<circle cx="896.7" cy="553.1" r="6.2"/>
<circle cx="1000.3" cy="546.7" r="6.2"/>
<circle cx="1016.9" cy="556.0" r="6.2"/>
<circle cx="1014.8" cy="566.3" r="6.2"/>
<circle cx="693.7" cy="575.6" r="6.2"/>
<circle cx="699.2" cy="587.7" r="6.2"/>
<circle cx="832.2" cy="592.7" r="6.2"/>
<circle cx="1011.4" cy="588.2" r="6.2"/>
<circle cx="1009.5" cy="615.7" r="6.2"/>
<circle cx="721.1" cy="626.6" r="6.2"/>
<circle cx="1013.2" cy="633.7" r="6.2"/>
<circle cx="732.3" cy="641.1" r="6.2"/>
<circle cx="704.5" cy="647.5" r="6.2"/>
<circle cx="640.8" cy="646.9" r="6.2"/>
<circle cx="1007.4" cy="703.0" r="6.2"/>
<circle cx="1066.4" cy="514.2" r="6.2"/>
<circle cx="1142.2" cy="517.9" r="6.2"/>
<circle cx="1327.3" cy="514.0" r="6.2"/>
<circle cx="1413.7" cy="512.1" r="6.2"/>
<circle cx="1456.5" cy="525.6" r="6.2"/>
<circle cx="1295.5" cy="523.0" r="6.2"/>
<circle cx="1232.9" cy="529.0" r="6.2"/>
<circle cx="1336.0" cy="530.4" r="6.2"/>
<circle cx="1107.3" cy="533.3" r="6.2"/>
<circle cx="1102.1" cy="537.8" r="6.2"/>
<circle cx="1262.5" cy="536.2" r="6.2"/>
<circle cx="1329.1" cy="537.2" r="6.2"/>
<circle cx="1277.0" cy="543.6" r="6.2"/>
<circle cx="1332.5" cy="546.5" r="6.2"/>
<circle cx="1151.7" cy="548.3" r="6.2"/>
<circle cx="1406.6" cy="547.3" r="6.2"/>
<circle cx="1312.2" cy="549.6" r="6.2"/>
<circle cx="1314.6" cy="552.8" r="6.2"/>
<circle cx="1155.4" cy="552.3" r="6.2"/>
<circle cx="1159.9" cy="556.3" r="6.2"/>
<circle cx="1170.2" cy="557.3" r="6.2"/>
<circle cx="1395.5" cy="556.5" r="6.2"/>
<circle cx="1209.1" cy="560.0" r="6.2"/>
<circle cx="1373.3" cy="563.9" r="6.2"/>
<circle cx="1236.6" cy="570.3" r="6.2"/>
<circle cx="1138.5" cy="574.0" r="6.2"/>
<circle cx="1356.6" cy="587.2" r="6.2"/>
<circle cx="1120.6" cy="593.8" r="6.2"/>
<circle cx="1061.3" cy="595.4" r="6.2"/>
<circle cx="1214.4" cy="595.6" r="6.2"/>
<circle cx="1306.6" cy="593.8" r="6.2"/>
<circle cx="1325.1" cy="596.4" r="6.2"/>
<circle cx="1362.2" cy="618.6" r="6.2"/>
<circle cx="1338.1" cy="624.5" r="6.2"/>
<circle cx="1349.2" cy="648.5" r="6.2"/>
<circle cx="1149.9" cy="678.1" r="6.2"/>
<circle cx="1353.2" cy="719.9" r="6.2"/>
<circle cx="1223.6" cy="745.0" r="6.2"/>
<circle cx="1489.8" cy="514.8" r="6.2"/>
<circle cx="1500.9" cy="516.6" r="6.2"/>
<circle cx="1544.8" cy="516.6" r="6.2"/>
<circle cx="1563.3" cy="519.5" r="6.2"/>
<circle cx="1591.1" cy="517.1" r="6.2"/>
<circle cx="1627.8" cy="516.9" r="6.2"/>
<circle cx="1625.4" cy="520.6" r="6.2"/>
<circle cx="1711.1" cy="521.1" r="6.2"/>
<circle cx="1674.3" cy="524.0" r="6.2"/>
<circle cx="1785.1" cy="516.1" r="6.2"/>
<circle cx="1836.6" cy="521.4" r="6.2"/>
<circle cx="1644.5" cy="531.7" r="6.2"/>
<circle cx="1698.4" cy="538.3" r="6.2"/>
<circle cx="1630.2" cy="539.1" r="6.2"/>
<circle cx="1611.7" cy="541.5" r="6.2"/>
<circle cx="1753.6" cy="542.2" r="6.2"/>
<circle cx="1827.9" cy="538.5" r="6.2"/>
<circle cx="1825.3" cy="542.5" r="6.2"/>
<circle cx="1576.5" cy="543.3" r="6.2"/>
<circle cx="1572.6" cy="548.6" r="6.2"/>
<circle cx="1554.6" cy="550.7" r="6.2"/>
<circle cx="1616.7" cy="552.8" r="6.2"/>
<circle cx="1637.3" cy="552.8" r="6.2"/>
<circle cx="1679.9" cy="554.4" r="6.2"/>
<circle cx="1549.3" cy="558.6" r="6.2"/>
<circle cx="1552.7" cy="560.2" r="6.2"/>
<circle cx="1618.8" cy="559.2" r="6.2"/>
<circle cx="1646.6" cy="565.0" r="6.2"/>
<circle cx="1615.1" cy="568.7" r="6.2"/>
<circle cx="1672.5" cy="578.5" r="6.2"/>
<circle cx="1724.0" cy="581.1" r="6.2"/>
<circle cx="1744.4" cy="581.4" r="6.2"/>
<circle cx="1528.4" cy="589.6" r="6.2"/>
<circle cx="1702.1" cy="590.6" r="6.2"/>
<circle cx="1543.2" cy="594.6" r="6.2"/>
<circle cx="1604.3" cy="593.5" r="6.2"/>
<circle cx="1624.6" cy="594.9" r="6.2"/>
<circle cx="1766.6" cy="598.0" r="6.2"/>
<circle cx="1594.8" cy="600.1" r="6.2"/>
<circle cx="1668.8" cy="611.5" r="6.2"/>
<circle cx="1568.9" cy="618.1" r="6.2"/>
<circle cx="1606.1" cy="617.1" r="6.2"/>
<circle cx="1600.1" cy="618.9" r="6.2"/>
<circle cx="1632.0" cy="619.4" r="6.2"/>
<circle cx="1622.3" cy="621.3" r="6.2"/>
<circle cx="1521.0" cy="622.9" r="6.2"/>
<circle cx="1541.4" cy="631.6" r="6.2"/>
<circle cx="1739.1" cy="644.8" r="6.2"/>
<circle cx="1537.7" cy="658.3" r="6.2"/>
<circle cx="1546.9" cy="680.2" r="6.2"/>
<circle cx="1737.0" cy="682.3" r="6.2"/>
<circle cx="1609.8" cy="691.9" r="6.2"/>
<circle cx="1539.5" cy="805.0" r="6.2"/>
<circle cx="1535.6" cy="814.5" r="6.2"/>
</g>
<rect x="226.0" y="189.0" width="1657.5" height="637.9" fill="none" stroke="#000" stroke-width="5.9"/>
<path transform="translate(144.90 282.00) scale(42.5 -42.5)" d="M.3557 .707L.255 .707C.24 .63 .17 .5875 .0493 .5875L.0493 .489L.213 .489L.213 0L.3557 0Z"/>
<text class="b" font-size="42.5" text-anchor="end" transform="translate(190.50 282.00) scale(1 1.05)">0</text>
<text class="b" font-size="42.5" text-anchor="end" transform="translate(190.50 382.00) scale(1 1.05)">0</text>
<path transform="translate(144.90 482.00) scale(42.5 -42.5)" d="M.3557 .707L.255 .707C.24 .63 .17 .5875 .0493 .5875L.0493 .489L.213 .489L.213 0L.3557 0Z"/>
<text class="b" font-size="42.5" text-anchor="end" transform="translate(190.50 482.00) scale(1 1.05)">0</text>
<rect x="120.5" y="469.75" width="21.6" height="5.3" fill="#000"/>
<text class="b" font-size="42.5" text-anchor="end" transform="translate(190.50 582.00) scale(1 1.05)">20</text>
<rect x="120.5" y="569.75" width="21.6" height="5.3" fill="#000"/>
<text class="b" font-size="42.5" text-anchor="end" transform="translate(190.50 682.00) scale(1 1.05)">30</text>
<rect x="120.5" y="669.75" width="21.6" height="5.3" fill="#000"/>
<text class="b" font-size="42.5" text-anchor="end" transform="translate(190.50 782.00) scale(1 1.05)">40</text>
<rect x="120.5" y="769.75" width="21.6" height="5.3" fill="#000"/>
<text class="b" font-size="42.5" text-anchor="middle" transform="translate(258.00 892.90) scale(1 1.05)">0</text>
<text class="b" font-size="42.5" text-anchor="middle" transform="translate(390.96 892.90) scale(1 1.05)">6</text>
<path transform="translate(500.68 892.90) scale(42.5 -42.5)" d="M.3557 .707L.255 .707C.24 .63 .17 .5875 .0493 .5875L.0493 .489L.213 .489L.213 0L.3557 0Z"/>
<text class="b" font-size="42.5" text-anchor="start" transform="translate(523.91 892.90) scale(1 1.05)">2</text>
<path transform="translate(633.64 892.90) scale(42.5 -42.5)" d="M.3557 .707L.255 .707C.24 .63 .17 .5875 .0493 .5875L.0493 .489L.213 .489L.213 0L.3557 0Z"/>
<text class="b" font-size="42.5" text-anchor="start" transform="translate(656.87 892.90) scale(1 1.05)">8</text>
<text class="b" font-size="42.5" text-anchor="middle" transform="translate(789.83 892.90) scale(1 1.05)">24</text>
<text class="b" font-size="42.5" text-anchor="middle" transform="translate(922.78 892.90) scale(1 1.05)">30</text>
<text class="b" font-size="42.5" text-anchor="middle" transform="translate(1055.74 892.90) scale(1 1.05)">36</text>
<text class="b" font-size="42.5" text-anchor="middle" transform="translate(1188.69 892.90) scale(1 1.05)">42</text>
<text class="b" font-size="42.5" text-anchor="middle" transform="translate(1321.65 892.90) scale(1 1.05)">48</text>
<text class="b" font-size="42.5" text-anchor="middle" transform="translate(1454.61 892.90) scale(1 1.05)">54</text>
<text class="b" font-size="42.5" text-anchor="middle" transform="translate(1587.56 892.90) scale(1 1.05)">60</text>
<text class="b" font-size="42.5" text-anchor="middle" transform="translate(1720.52 892.90) scale(1 1.05)">66</text>
<text class="b" font-size="42.5" text-anchor="middle" transform="translate(1853.48 892.90) scale(1 1.05)">72</text>
<text font-size="42.4" text-anchor="middle" transform="translate(89.90 507.95) rotate(-90) scale(1 1.044)">East (mm)</text>
<path d="M258.00 1001.95v-16.2M258.00 1645.75v16.2M302.32 1001.95v-7.0M302.32 1645.75v7.0M346.64 1001.95v-7.0M346.64 1645.75v7.0M390.96 1001.95v-16.2M390.96 1645.75v16.2M435.28 1001.95v-7.0M435.28 1645.75v7.0M479.59 1001.95v-7.0M479.59 1645.75v7.0M523.91 1001.95v-16.2M523.91 1645.75v16.2M568.23 1001.95v-7.0M568.23 1645.75v7.0M612.55 1001.95v-7.0M612.55 1645.75v7.0M656.87 1001.95v-16.2M656.87 1645.75v16.2M701.19 1001.95v-7.0M701.19 1645.75v7.0M745.51 1001.95v-7.0M745.51 1645.75v7.0M789.83 1001.95v-16.2M789.83 1645.75v16.2M834.14 1001.95v-7.0M834.14 1645.75v7.0M878.46 1001.95v-7.0M878.46 1645.75v7.0M922.78 1001.95v-16.2M922.78 1645.75v16.2M967.10 1001.95v-7.0M967.10 1645.75v7.0M1011.42 1001.95v-7.0M1011.42 1645.75v7.0M1055.74 1001.95v-16.2M1055.74 1645.75v16.2M1100.06 1001.95v-7.0M1100.06 1645.75v7.0M1144.38 1001.95v-7.0M1144.38 1645.75v7.0M1188.69 1001.95v-16.2M1188.69 1645.75v16.2M1233.01 1001.95v-7.0M1233.01 1645.75v7.0M1277.33 1001.95v-7.0M1277.33 1645.75v7.0M1321.65 1001.95v-16.2M1321.65 1645.75v16.2M1365.97 1001.95v-7.0M1365.97 1645.75v7.0M1410.29 1001.95v-7.0M1410.29 1645.75v7.0M1454.61 1001.95v-16.2M1454.61 1645.75v16.2M1498.93 1001.95v-7.0M1498.93 1645.75v7.0M1543.25 1001.95v-7.0M1543.25 1645.75v7.0M1587.56 1001.95v-16.2M1587.56 1645.75v16.2M1631.88 1001.95v-7.0M1631.88 1645.75v7.0M1676.20 1001.95v-7.0M1676.20 1645.75v7.0M1720.52 1001.95v-16.2M1720.52 1645.75v16.2M1764.84 1001.95v-7.0M1764.84 1645.75v7.0M1809.16 1001.95v-7.0M1809.16 1645.75v7.0M1853.48 1001.95v-16.2M1853.48 1645.75v16.2" stroke="#000" stroke-width="2.4" fill="none"/>
<path d="M223.05 1080.50h-16M1886.45 1080.50h16M223.05 1166.00h-16M1886.45 1166.00h16M223.05 1251.50h-16M1886.45 1251.50h16M223.05 1337.00h-16M1886.45 1337.00h16M223.05 1422.50h-16M1886.45 1422.50h16M223.05 1508.00h-16M1886.45 1508.00h16M223.05 1593.50h-16M1886.45 1593.50h16" stroke="#000" stroke-width="2.8" fill="none"/>
<g class="d" fill="#0000ff" id="p1">
<circle cx="632.3" cy="1085.9" r="6.2"/>
<circle cx="625.2" cy="1114.4" r="6.2"/>
<circle cx="603.0" cy="1129.0" r="6.2"/>
<circle cx="296.6" cy="1141.4" r="6.2"/>
<circle cx="547.5" cy="1146.4" r="6.2"/>
<circle cx="267.0" cy="1152.0" r="6.2"/>
<circle cx="427.7" cy="1152.2" r="6.2"/>
<circle cx="368.5" cy="1165.4" r="6.2"/>
<circle cx="313.3" cy="1168.6" r="6.2"/>
<circle cx="337.3" cy="1171.8" r="6.2"/>
<circle cx="447.8" cy="1173.1" r="6.2"/>
<circle cx="494.1" cy="1172.3" r="6.2"/>
<circle cx="398.1" cy="1175.5" r="6.2"/>
<circle cx="514.4" cy="1179.5" r="6.2"/>
<circle cx="372.5" cy="1180.5" r="6.2"/>
<circle cx="307.5" cy="1182.1" r="6.2"/>
<circle cx="453.6" cy="1190.6" r="6.2"/>
<circle cx="483.3" cy="1193.5" r="6.2"/>
<circle cx="562.3" cy="1193.2" r="6.2"/>
<circle cx="594.0" cy="1194.3" r="6.2"/>
<circle cx="265.4" cy="1195.8" r="6.2"/>
<circle cx="437.0" cy="1202.5" r="6.2"/>
<circle cx="516.6" cy="1201.9" r="6.2"/>
<circle cx="527.7" cy="1201.7" r="6.2"/>
<circle cx="498.1" cy="1207.2" r="6.2"/>
<circle cx="605.1" cy="1208.5" r="6.2"/>
<circle cx="302.2" cy="1209.6" r="6.2"/>
<circle cx="458.9" cy="1212.2" r="6.2"/>
<circle cx="344.5" cy="1214.4" r="6.2"/>
<circle cx="535.1" cy="1214.6" r="6.2"/>
<circle cx="387.0" cy="1217.3" r="6.2"/>
<circle cx="329.7" cy="1220.7" r="6.2"/>
<circle cx="644.0" cy="1225.2" r="6.2"/>
<circle cx="555.1" cy="1227.6" r="6.2"/>
<circle cx="451.8" cy="1227.8" r="6.2"/>
<circle cx="361.4" cy="1229.7" r="6.2"/>
<circle cx="464.7" cy="1231.3" r="6.2"/>
<circle cx="272.8" cy="1232.3" r="6.2"/>
<circle cx="438.6" cy="1234.7" r="6.2"/>
<circle cx="410.8" cy="1237.3" r="6.2"/>
<circle cx="457.6" cy="1237.6" r="6.2"/>
<circle cx="588.5" cy="1238.4" r="6.2"/>
<circle cx="616.2" cy="1237.6" r="6.2"/>
<circle cx="630.7" cy="1238.4" r="6.2"/>
<circle cx="486.7" cy="1239.7" r="6.2"/>
<circle cx="324.1" cy="1242.1" r="6.2"/>
<circle cx="626.8" cy="1244.2" r="6.2"/>
<circle cx="311.4" cy="1245.0" r="6.2"/>
<circle cx="495.9" cy="1244.7" r="6.2"/>
<circle cx="512.6" cy="1248.4" r="6.2"/>
<circle cx="477.4" cy="1249.0" r="6.2"/>
<circle cx="289.2" cy="1250.0" r="6.2"/>
<circle cx="636.0" cy="1249.5" r="6.2"/>
<circle cx="560.7" cy="1251.4" r="6.2"/>
<circle cx="405.5" cy="1254.5" r="6.2"/>
<circle cx="355.8" cy="1255.6" r="6.2"/>
<circle cx="621.5" cy="1255.3" r="6.2"/>
<circle cx="342.6" cy="1260.3" r="6.2"/>
<circle cx="268.9" cy="1262.5" r="6.2"/>
<circle cx="520.3" cy="1261.9" r="6.2"/>
<circle cx="351.9" cy="1262.7" r="6.2"/>
<circle cx="358.5" cy="1264.0" r="6.2"/>
<circle cx="466.3" cy="1263.5" r="6.2"/>
<circle cx="328.1" cy="1265.4" r="6.2"/>
<circle cx="599.6" cy="1265.9" r="6.2"/>
<circle cx="298.5" cy="1267.2" r="6.2"/>
<circle cx="424.0" cy="1267.2" r="6.2"/>
<circle cx="444.4" cy="1267.5" r="6.2"/>
<circle cx="579.2" cy="1267.2" r="6.2"/>
<circle cx="320.7" cy="1268.5" r="6.2"/>
<circle cx="400.0" cy="1270.1" r="6.2"/>
<circle cx="418.8" cy="1270.1" r="6.2"/>
<circle cx="532.9" cy="1274.1" r="6.2"/>
<circle cx="564.7" cy="1274.6" r="6.2"/>
<circle cx="540.9" cy="1275.9" r="6.2"/>
<circle cx="634.7" cy="1275.1" r="6.2"/>
<circle cx="305.9" cy="1275.1" r="6.2"/>
<circle cx="394.2" cy="1281.2" r="6.2"/>
<circle cx="484.8" cy="1282.3" r="6.2"/>
<circle cx="370.1" cy="1283.3" r="6.2"/>
<circle cx="359.3" cy="1284.7" r="6.2"/>
<circle cx="431.4" cy="1285.7" r="6.2"/>
<circle cx="538.8" cy="1285.7" r="6.2"/>
<circle cx="619.9" cy="1286.0" r="6.2"/>
<circle cx="293.2" cy="1287.8" r="6.2"/>
<circle cx="612.2" cy="1288.6" r="6.2"/>
<circle cx="317.0" cy="1289.7" r="6.2"/>
<circle cx="346.6" cy="1289.2" r="6.2"/>
<circle cx="468.2" cy="1291.0" r="6.2"/>
<circle cx="300.3" cy="1293.1" r="6.2"/>
<circle cx="348.4" cy="1293.1" r="6.2"/>
<circle cx="407.4" cy="1293.4" r="6.2"/>
<circle cx="383.3" cy="1294.7" r="6.2"/>
<circle cx="326.0" cy="1295.5" r="6.2"/>
<circle cx="499.9" cy="1295.8" r="6.2"/>
<circle cx="556.7" cy="1297.1" r="6.2"/>
<circle cx="475.6" cy="1298.4" r="6.2"/>
<circle cx="392.3" cy="1298.4" r="6.2"/>
<circle cx="608.8" cy="1297.6" r="6.2"/>
<circle cx="283.7" cy="1299.7" r="6.2"/>
<circle cx="586.6" cy="1299.2" r="6.2"/>
<circle cx="552.8" cy="1301.6" r="6.2"/>
<circle cx="505.2" cy="1304.8" r="6.2"/>
<circle cx="291.1" cy="1306.3" r="6.2"/>
<circle cx="607.0" cy="1307.7" r="6.2"/>
<circle cx="318.3" cy="1308.5" r="6.2"/>
<circle cx="374.3" cy="1308.5" r="6.2"/>
<circle cx="285.8" cy="1310.3" r="6.2"/>
<circle cx="323.3" cy="1310.8" r="6.2"/>
<circle cx="275.2" cy="1311.6" r="6.2"/>
<circle cx="412.9" cy="1311.6" r="6.2"/>
<circle cx="417.2" cy="1312.9" r="6.2"/>
<circle cx="263.3" cy="1313.5" r="6.2"/>
<circle cx="469.5" cy="1312.2" r="6.2"/>
<circle cx="477.4" cy="1311.6" r="6.2"/>
<circle cx="481.4" cy="1314.8" r="6.2"/>
<circle cx="442.5" cy="1316.1" r="6.2"/>
<circle cx="340.8" cy="1321.4" r="6.2"/>
<circle cx="378.3" cy="1322.2" r="6.2"/>
<circle cx="414.8" cy="1320.9" r="6.2"/>
<circle cx="525.5" cy="1322.2" r="6.2"/>
<circle cx="546.2" cy="1320.9" r="6.2"/>
<circle cx="536.9" cy="1327.1" r="6.2"/>
<circle cx="644.0" cy="1323.5" r="6.2"/>
<circle cx="826.6" cy="1028.0" r="6.2"/>
<circle cx="699.2" cy="1035.9" r="6.2"/>
<circle cx="719.6" cy="1046.2" r="6.2"/>
<circle cx="1035.4" cy="1053.1" r="6.2"/>
<circle cx="708.7" cy="1066.9" r="6.2"/>
<circle cx="745.2" cy="1085.6" r="6.2"/>
<circle cx="702.6" cy="1095.4" r="6.2"/>
<circle cx="904.3" cy="1107.6" r="6.2"/>
<circle cx="656.7" cy="1134.5" r="6.2"/>
<circle cx="957.7" cy="1136.1" r="6.2"/>
<circle cx="902.2" cy="1141.1" r="6.2"/>
<circle cx="908.8" cy="1147.2" r="6.2"/>
<circle cx="897.2" cy="1151.2" r="6.2"/>
<circle cx="887.1" cy="1153.0" r="6.2"/>
<circle cx="1013.0" cy="1153.3" r="6.2"/>
<circle cx="774.8" cy="1161.7" r="6.2"/>
<circle cx="891.4" cy="1162.8" r="6.2"/>
<circle cx="697.4" cy="1163.6" r="6.2"/>
<circle cx="954.0" cy="1162.8" r="6.2"/>
<circle cx="838.0" cy="1165.7" r="6.2"/>
<circle cx="1058.2" cy="1168.1" r="6.2"/>
<circle cx="981.5" cy="1171.8" r="6.2"/>
<circle cx="773.0" cy="1172.3" r="6.2"/>
<circle cx="831.9" cy="1172.1" r="6.2"/>
<circle cx="913.3" cy="1174.4" r="6.2"/>
<circle cx="1007.7" cy="1174.2" r="6.2"/>
<circle cx="930.0" cy="1178.7" r="6.2"/>
<circle cx="889.3" cy="1179.7" r="6.2"/>
<circle cx="712.7" cy="1184.7" r="6.2"/>
<circle cx="1037.0" cy="1187.4" r="6.2"/>
<circle cx="694.2" cy="1189.2" r="6.2"/>
<circle cx="718.0" cy="1188.7" r="6.2"/>
<circle cx="704.8" cy="1190.0" r="6.2"/>
<circle cx="917.0" cy="1190.0" r="6.2"/>
<circle cx="683.6" cy="1194.0" r="6.2"/>
<circle cx="726.7" cy="1193.7" r="6.2"/>
<circle cx="1003.7" cy="1193.5" r="6.2"/>
<circle cx="688.4" cy="1197.2" r="6.2"/>
<circle cx="972.5" cy="1198.5" r="6.2"/>
<circle cx="802.6" cy="1201.9" r="6.2"/>
<circle cx="1039.4" cy="1202.5" r="6.2"/>
<circle cx="1057.1" cy="1201.9" r="6.2"/>
<circle cx="996.3" cy="1204.3" r="6.2"/>
<circle cx="874.5" cy="1206.4" r="6.2"/>
<circle cx="809.7" cy="1216.2" r="6.2"/>
<circle cx="835.6" cy="1217.3" r="6.2"/>
<circle cx="854.1" cy="1218.3" r="6.2"/>
<circle cx="911.5" cy="1217.8" r="6.2"/>
<circle cx="690.2" cy="1222.5" r="6.2"/>
<circle cx="987.6" cy="1223.6" r="6.2"/>
<circle cx="671.7" cy="1225.7" r="6.2"/>
<circle cx="714.3" cy="1224.7" r="6.2"/>
<circle cx="935.3" cy="1224.7" r="6.2"/>
<circle cx="843.0" cy="1227.0" r="6.2"/>
<circle cx="763.4" cy="1228.4" r="6.2"/>
<circle cx="928.1" cy="1228.4" r="6.2"/>
<circle cx="932.1" cy="1230.2" r="6.2"/>
<circle cx="778.8" cy="1233.6" r="6.2"/>
<circle cx="686.3" cy="1234.2" r="6.2"/>
<circle cx="1043.9" cy="1234.2" r="6.2"/>
<circle cx="669.1" cy="1237.6" r="6.2"/>
<circle cx="983.6" cy="1237.6" r="6.2"/>
<circle cx="1041.3" cy="1237.6" r="6.2"/>
<circle cx="678.9" cy="1242.1" r="6.2"/>
<circle cx="905.9" cy="1242.6" r="6.2"/>
<circle cx="867.3" cy="1242.9" r="6.2"/>
<circle cx="978.3" cy="1242.9" r="6.2"/>
<circle cx="813.7" cy="1245.0" r="6.2"/>
<circle cx="1051.0" cy="1243.7" r="6.2"/>
<circle cx="846.7" cy="1246.3" r="6.2"/>
<circle cx="1002.1" cy="1245.0" r="6.2"/>
<circle cx="941.3" cy="1247.7" r="6.2"/>
<circle cx="998.2" cy="1250.0" r="6.2"/>
<circle cx="804.7" cy="1252.1" r="6.2"/>
<circle cx="872.6" cy="1252.7" r="6.2"/>
<circle cx="881.3" cy="1253.5" r="6.2"/>
<circle cx="968.6" cy="1253.5" r="6.2"/>
<circle cx="985.7" cy="1254.5" r="6.2"/>
<circle cx="1022.8" cy="1256.1" r="6.2"/>
<circle cx="848.8" cy="1258.0" r="6.2"/>
<circle cx="797.3" cy="1258.0" r="6.2"/>
<circle cx="937.4" cy="1257.4" r="6.2"/>
<circle cx="884.5" cy="1259.3" r="6.2"/>
<circle cx="728.6" cy="1260.9" r="6.2"/>
<circle cx="653.2" cy="1262.5" r="6.2"/>
<circle cx="839.6" cy="1260.9" r="6.2"/>
<circle cx="1041.3" cy="1261.9" r="6.2"/>
<circle cx="1018.0" cy="1261.4" r="6.2"/>
<circle cx="760.3" cy="1263.8" r="6.2"/>
<circle cx="715.9" cy="1266.4" r="6.2"/>
<circle cx="1014.0" cy="1266.2" r="6.2"/>
<circle cx="819.2" cy="1267.5" r="6.2"/>
<circle cx="787.5" cy="1270.7" r="6.2"/>
<circle cx="1046.5" cy="1270.7" r="6.2"/>
<circle cx="856.2" cy="1272.5" r="6.2"/>
<circle cx="833.8" cy="1273.3" r="6.2"/>
<circle cx="893.2" cy="1273.6" r="6.2"/>
<circle cx="909.6" cy="1274.6" r="6.2"/>
<circle cx="1000.0" cy="1274.6" r="6.2"/>
<circle cx="798.6" cy="1278.3" r="6.2"/>
<circle cx="658.5" cy="1279.1" r="6.2"/>
<circle cx="782.2" cy="1279.1" r="6.2"/>
<circle cx="848.8" cy="1280.4" r="6.2"/>
<circle cx="974.4" cy="1280.4" r="6.2"/>
<circle cx="922.8" cy="1282.5" r="6.2"/>
<circle cx="1005.6" cy="1282.0" r="6.2"/>
<circle cx="673.0" cy="1284.4" r="6.2"/>
<circle cx="750.5" cy="1284.7" r="6.2"/>
<circle cx="755.5" cy="1287.3" r="6.2"/>
<circle cx="1011.4" cy="1289.2" r="6.2"/>
<circle cx="1048.4" cy="1289.2" r="6.2"/>
<circle cx="747.1" cy="1290.5" r="6.2"/>
<circle cx="701.3" cy="1291.5" r="6.2"/>
<circle cx="852.8" cy="1289.9" r="6.2"/>
<circle cx="860.7" cy="1289.2" r="6.2"/>
<circle cx="654.5" cy="1294.4" r="6.2"/>
<circle cx="661.7" cy="1295.2" r="6.2"/>
<circle cx="959.3" cy="1295.0" r="6.2"/>
<circle cx="724.1" cy="1297.9" r="6.2"/>
<circle cx="767.7" cy="1297.9" r="6.2"/>
<circle cx="933.9" cy="1298.1" r="6.2"/>
<circle cx="739.7" cy="1300.5" r="6.2"/>
<circle cx="789.9" cy="1300.3" r="6.2"/>
<circle cx="858.1" cy="1300.5" r="6.2"/>
<circle cx="899.0" cy="1301.1" r="6.2"/>
<circle cx="649.3" cy="1300.5" r="6.2"/>
<circle cx="666.4" cy="1302.4" r="6.2"/>
<circle cx="681.0" cy="1304.2" r="6.2"/>
<circle cx="870.8" cy="1305.0" r="6.2"/>
<circle cx="1009.5" cy="1304.5" r="6.2"/>
<circle cx="651.9" cy="1307.1" r="6.2"/>
<circle cx="735.2" cy="1309.8" r="6.2"/>
<circle cx="743.1" cy="1310.8" r="6.2"/>
<circle cx="780.1" cy="1309.5" r="6.2"/>
<circle cx="924.7" cy="1312.9" r="6.2"/>
<circle cx="944.8" cy="1313.7" r="6.2"/>
<circle cx="863.4" cy="1317.7" r="6.2"/>
<circle cx="885.8" cy="1317.4" r="6.2"/>
<circle cx="677.0" cy="1318.8" r="6.2"/>
<circle cx="776.1" cy="1319.6" r="6.2"/>
<circle cx="815.8" cy="1321.4" r="6.2"/>
<circle cx="965.1" cy="1319.6" r="6.2"/>
<circle cx="876.0" cy="1323.0" r="6.2"/>
<circle cx="662.5" cy="1326.3" r="6.2"/>
<circle cx="823.7" cy="1327.1" r="6.2"/>
<circle cx="784.1" cy="1324.0" r="6.2"/>
<circle cx="1062.9" cy="1017.2" r="6.2"/>
<circle cx="1249.5" cy="1065.0" r="6.2"/>
<circle cx="1149.9" cy="1078.2" r="6.2"/>
<circle cx="1367.7" cy="1097.3" r="6.2"/>
<circle cx="1432.2" cy="1116.3" r="6.2"/>
<circle cx="1114.7" cy="1125.8" r="6.2"/>
<circle cx="1302.9" cy="1126.1" r="6.2"/>
<circle cx="1312.7" cy="1129.2" r="6.2"/>
<circle cx="1340.2" cy="1136.4" r="6.2"/>
<circle cx="1103.6" cy="1138.2" r="6.2"/>
<circle cx="1332.5" cy="1141.7" r="6.2"/>
<circle cx="1238.7" cy="1144.8" r="6.2"/>
<circle cx="1443.0" cy="1147.2" r="6.2"/>
<circle cx="1308.5" cy="1149.9" r="6.2"/>
<circle cx="1397.0" cy="1149.3" r="6.2"/>
<circle cx="1201.7" cy="1156.2" r="6.2"/>
<circle cx="1275.5" cy="1160.4" r="6.2"/>
<circle cx="1242.1" cy="1163.3" r="6.2"/>
<circle cx="1085.1" cy="1164.7" r="6.2"/>
<circle cx="1124.0" cy="1173.6" r="6.2"/>
<circle cx="1277.0" cy="1173.1" r="6.2"/>
<circle cx="1319.9" cy="1173.9" r="6.2"/>
<circle cx="1421.1" cy="1176.0" r="6.2"/>
<circle cx="1362.2" cy="1185.3" r="6.2"/>
<circle cx="1460.0" cy="1187.9" r="6.2"/>
<circle cx="1356.3" cy="1191.9" r="6.2"/>
<circle cx="1365.1" cy="1193.7" r="6.2"/>
<circle cx="1083.5" cy="1193.2" r="6.2"/>
<circle cx="1134.8" cy="1195.8" r="6.2"/>
<circle cx="1245.6" cy="1195.8" r="6.2"/>
<circle cx="1133.0" cy="1201.4" r="6.2"/>
<circle cx="1317.5" cy="1202.2" r="6.2"/>
<circle cx="1194.3" cy="1203.0" r="6.2"/>
<circle cx="1352.9" cy="1202.2" r="6.2"/>
<circle cx="1434.6" cy="1203.2" r="6.2"/>
<circle cx="1386.2" cy="1206.4" r="6.2"/>
<circle cx="1147.5" cy="1207.5" r="6.2"/>
<circle cx="1157.6" cy="1208.3" r="6.2"/>
<circle cx="1244.0" cy="1209.1" r="6.2"/>
<circle cx="1255.1" cy="1210.4" r="6.2"/>
<circle cx="1438.3" cy="1209.3" r="6.2"/>
<circle cx="1217.6" cy="1213.8" r="6.2"/>
<circle cx="1213.6" cy="1215.9" r="6.2"/>
<circle cx="1269.6" cy="1212.8" r="6.2"/>
<circle cx="1377.0" cy="1213.0" r="6.2"/>
<circle cx="1436.4" cy="1218.6" r="6.2"/>
<circle cx="1389.9" cy="1222.3" r="6.2"/>
<circle cx="1138.5" cy="1222.8" r="6.2"/>
<circle cx="1321.4" cy="1223.1" r="6.2"/>
<circle cx="1328.1" cy="1222.3" r="6.2"/>
<circle cx="1223.6" cy="1223.1" r="6.2"/>
<circle cx="1199.9" cy="1225.2" r="6.2"/>
<circle cx="1257.2" cy="1230.2" r="6.2"/>
<circle cx="1388.1" cy="1229.7" r="6.2"/>
<circle cx="1212.8" cy="1231.3" r="6.2"/>
<circle cx="1338.1" cy="1231.5" r="6.2"/>
<circle cx="1144.3" cy="1236.3" r="6.2"/>
<circle cx="1195.9" cy="1239.2" r="6.2"/>
<circle cx="1412.1" cy="1241.0" r="6.2"/>
<circle cx="1258.5" cy="1242.4" r="6.2"/>
<circle cx="1351.1" cy="1243.2" r="6.2"/>
<circle cx="1316.2" cy="1244.2" r="6.2"/>
<circle cx="1136.9" cy="1244.7" r="6.2"/>
<circle cx="1430.4" cy="1246.9" r="6.2"/>
<circle cx="1343.6" cy="1248.7" r="6.2"/>
<circle cx="1402.6" cy="1250.0" r="6.2"/>
<circle cx="1273.6" cy="1250.8" r="6.2"/>
<circle cx="1173.9" cy="1251.4" r="6.2"/>
<circle cx="1228.1" cy="1253.5" r="6.2"/>
<circle cx="1186.6" cy="1254.8" r="6.2"/>
<circle cx="1466.0" cy="1254.0" r="6.2"/>
<circle cx="1209.1" cy="1255.6" r="6.2"/>
<circle cx="1215.4" cy="1256.6" r="6.2"/>
<circle cx="1146.2" cy="1256.4" r="6.2"/>
<circle cx="1113.2" cy="1257.4" r="6.2"/>
<circle cx="1183.2" cy="1260.6" r="6.2"/>
<circle cx="1118.4" cy="1262.2" r="6.2"/>
<circle cx="1314.0" cy="1262.5" r="6.2"/>
<circle cx="1358.5" cy="1265.1" r="6.2"/>
<circle cx="1466.8" cy="1264.0" r="6.2"/>
<circle cx="1454.1" cy="1268.8" r="6.2"/>
<circle cx="1171.8" cy="1270.7" r="6.2"/>
<circle cx="1304.8" cy="1272.5" r="6.2"/>
<circle cx="1251.1" cy="1274.1" r="6.2"/>
<circle cx="1175.3" cy="1275.9" r="6.2"/>
<circle cx="1439.6" cy="1277.5" r="6.2"/>
<circle cx="1177.9" cy="1279.1" r="6.2"/>
<circle cx="1191.9" cy="1282.0" r="6.2"/>
<circle cx="1328.6" cy="1283.1" r="6.2"/>
<circle cx="1380.7" cy="1282.5" r="6.2"/>
<circle cx="1392.0" cy="1283.3" r="6.2"/>
<circle cx="1220.2" cy="1284.4" r="6.2"/>
<circle cx="1210.2" cy="1285.2" r="6.2"/>
<circle cx="1266.5" cy="1286.0" r="6.2"/>
<circle cx="1345.8" cy="1286.0" r="6.2"/>
<circle cx="1458.1" cy="1284.4" r="6.2"/>
<circle cx="1463.4" cy="1285.2" r="6.2"/>
<circle cx="1120.3" cy="1288.1" r="6.2"/>
<circle cx="1426.4" cy="1287.3" r="6.2"/>
<circle cx="1355.0" cy="1289.4" r="6.2"/>
<circle cx="1271.2" cy="1291.8" r="6.2"/>
<circle cx="1282.9" cy="1291.0" r="6.2"/>
<circle cx="1077.7" cy="1291.0" r="6.2"/>
<circle cx="1334.7" cy="1291.0" r="6.2"/>
<circle cx="1247.4" cy="1294.4" r="6.2"/>
<circle cx="1059.8" cy="1296.3" r="6.2"/>
<circle cx="1310.1" cy="1297.1" r="6.2"/>
<circle cx="1452.8" cy="1297.1" r="6.2"/>
<circle cx="1382.8" cy="1298.9" r="6.2"/>
<circle cx="1360.3" cy="1300.3" r="6.2"/>
<circle cx="1126.4" cy="1300.5" r="6.2"/>
<circle cx="1178.7" cy="1300.5" r="6.2"/>
<circle cx="1092.5" cy="1301.6" r="6.2"/>
<circle cx="1232.6" cy="1301.8" r="6.2"/>
<circle cx="1205.1" cy="1303.2" r="6.2"/>
<circle cx="1105.2" cy="1304.0" r="6.2"/>
<circle cx="1447.5" cy="1303.7" r="6.2"/>
<circle cx="1185.1" cy="1305.0" r="6.2"/>
<circle cx="1407.9" cy="1305.5" r="6.2"/>
<circle cx="1258.5" cy="1307.1" r="6.2"/>
<circle cx="1265.1" cy="1305.8" r="6.2"/>
<circle cx="1201.7" cy="1307.1" r="6.2"/>
<circle cx="1463.4" cy="1306.3" r="6.2"/>
<circle cx="1403.9" cy="1310.3" r="6.2"/>
<circle cx="1208.3" cy="1310.8" r="6.2"/>
<circle cx="1094.6" cy="1311.6" r="6.2"/>
<circle cx="1088.0" cy="1313.7" r="6.2"/>
<circle cx="1079.3" cy="1315.1" r="6.2"/>
<circle cx="1099.4" cy="1316.9" r="6.2"/>
<circle cx="1159.4" cy="1317.7" r="6.2"/>
<circle cx="1165.5" cy="1316.4" r="6.2"/>
<circle cx="1188.5" cy="1319.6" r="6.2"/>
<circle cx="1234.7" cy="1318.8" r="6.2"/>
<circle cx="1417.7" cy="1319.6" r="6.2"/>
<circle cx="1373.5" cy="1320.9" r="6.2"/>
<circle cx="1279.2" cy="1321.4" r="6.2"/>
<circle cx="1365.6" cy="1323.5" r="6.2"/>
<circle cx="1443.6" cy="1322.2" r="6.2"/>
<circle cx="1450.2" cy="1321.4" r="6.2"/>
<circle cx="1411.8" cy="1323.5" r="6.2"/>
<circle cx="1467.9" cy="1312.9" r="6.2"/>
<circle cx="1502.5" cy="1036.5" r="6.2"/>
<circle cx="1835.0" cy="1051.5" r="6.2"/>
<circle cx="1615.1" cy="1058.7" r="6.2"/>
<circle cx="1661.4" cy="1072.4" r="6.2"/>
<circle cx="1535.8" cy="1089.6" r="6.2"/>
<circle cx="1555.9" cy="1102.8" r="6.2"/>
<circle cx="1639.4" cy="1106.0" r="6.2"/>
<circle cx="1668.8" cy="1105.7" r="6.2"/>
<circle cx="1779.5" cy="1110.5" r="6.2"/>
<circle cx="1539.5" cy="1112.6" r="6.2"/>
<circle cx="1644.5" cy="1128.2" r="6.2"/>
<circle cx="1537.7" cy="1131.1" r="6.2"/>
<circle cx="1513.9" cy="1143.8" r="6.2"/>
<circle cx="1526.3" cy="1156.5" r="6.2"/>
<circle cx="1737.0" cy="1166.0" r="6.2"/>
<circle cx="1541.4" cy="1168.4" r="6.2"/>
<circle cx="1833.2" cy="1168.6" r="6.2"/>
<circle cx="1543.2" cy="1179.5" r="6.2"/>
<circle cx="1672.5" cy="1179.7" r="6.2"/>
<circle cx="1740.7" cy="1181.3" r="6.2"/>
<circle cx="1504.4" cy="1183.4" r="6.2"/>
<circle cx="1723.8" cy="1186.6" r="6.2"/>
<circle cx="1554.1" cy="1187.4" r="6.2"/>
<circle cx="1692.8" cy="1189.0" r="6.2"/>
<circle cx="1674.9" cy="1190.0" r="6.2"/>
<circle cx="1676.2" cy="1193.7" r="6.2"/>
<circle cx="1765.0" cy="1194.3" r="6.2"/>
<circle cx="1838.7" cy="1194.3" r="6.2"/>
<circle cx="1511.8" cy="1198.2" r="6.2"/>
<circle cx="1648.4" cy="1199.3" r="6.2"/>
<circle cx="1703.9" cy="1199.8" r="6.2"/>
<circle cx="1790.6" cy="1205.9" r="6.2"/>
<circle cx="1666.9" cy="1208.3" r="6.2"/>
<circle cx="1694.7" cy="1209.1" r="6.2"/>
<circle cx="1642.9" cy="1210.1" r="6.2"/>
<circle cx="1679.9" cy="1211.7" r="6.2"/>
<circle cx="1755.5" cy="1215.7" r="6.2"/>
<circle cx="1495.1" cy="1217.8" r="6.2"/>
<circle cx="1731.7" cy="1217.8" r="6.2"/>
<circle cx="1569.1" cy="1219.9" r="6.2"/>
<circle cx="1546.9" cy="1222.0" r="6.2"/>
<circle cx="1809.1" cy="1222.0" r="6.2"/>
<circle cx="1497.0" cy="1223.1" r="6.2"/>
<circle cx="1696.5" cy="1225.2" r="6.2"/>
<circle cx="1750.2" cy="1227.3" r="6.2"/>
<circle cx="1650.5" cy="1230.2" r="6.2"/>
<circle cx="1843.8" cy="1232.1" r="6.2"/>
<circle cx="1617.2" cy="1232.9" r="6.2"/>
<circle cx="1659.8" cy="1233.6" r="6.2"/>
<circle cx="1739.1" cy="1232.9" r="6.2"/>
<circle cx="1775.8" cy="1235.0" r="6.2"/>
<circle cx="1506.5" cy="1236.8" r="6.2"/>
<circle cx="1559.6" cy="1237.6" r="6.2"/>
<circle cx="1627.8" cy="1238.1" r="6.2"/>
<circle cx="1758.9" cy="1238.7" r="6.2"/>
<circle cx="1805.7" cy="1242.9" r="6.2"/>
<circle cx="1534.0" cy="1250.0" r="6.2"/>
<circle cx="1637.3" cy="1250.3" r="6.2"/>
<circle cx="1762.9" cy="1252.9" r="6.2"/>
<circle cx="1558.0" cy="1253.7" r="6.2"/>
<circle cx="1748.1" cy="1254.3" r="6.2"/>
<circle cx="1548.5" cy="1255.3" r="6.2"/>
<circle cx="1524.7" cy="1257.2" r="6.2"/>
<circle cx="1654.2" cy="1258.2" r="6.2"/>
<circle cx="1485.9" cy="1259.3" r="6.2"/>
<circle cx="1622.8" cy="1259.3" r="6.2"/>
<circle cx="1784.6" cy="1259.3" r="6.2"/>
<circle cx="1578.1" cy="1262.5" r="6.2"/>
<circle cx="1745.7" cy="1264.0" r="6.2"/>
<circle cx="1489.8" cy="1266.7" r="6.2"/>
<circle cx="1740.9" cy="1266.7" r="6.2"/>
<circle cx="1716.6" cy="1266.7" r="6.2"/>
<circle cx="1663.5" cy="1267.5" r="6.2"/>
<circle cx="1677.8" cy="1268.5" r="6.2"/>
<circle cx="1797.8" cy="1267.5" r="6.2"/>
<circle cx="1587.1" cy="1268.0" r="6.2"/>
<circle cx="1629.9" cy="1269.3" r="6.2"/>
<circle cx="1760.8" cy="1270.7" r="6.2"/>
<circle cx="1592.9" cy="1275.4" r="6.2"/>
<circle cx="1483.7" cy="1279.9" r="6.2"/>
<circle cx="1795.9" cy="1283.3" r="6.2"/>
<circle cx="1774.0" cy="1283.9" r="6.2"/>
<circle cx="1807.6" cy="1284.4" r="6.2"/>
<circle cx="1829.5" cy="1284.7" r="6.2"/>
<circle cx="1733.5" cy="1285.5" r="6.2"/>
<circle cx="1757.6" cy="1287.0" r="6.2"/>
<circle cx="1517.6" cy="1288.6" r="6.2"/>
<circle cx="1529.5" cy="1291.3" r="6.2"/>
<circle cx="1820.2" cy="1291.8" r="6.2"/>
<circle cx="1581.8" cy="1293.6" r="6.2"/>
<circle cx="1611.7" cy="1295.8" r="6.2"/>
<circle cx="1545.3" cy="1297.1" r="6.2"/>
<circle cx="1552.7" cy="1295.8" r="6.2"/>
<circle cx="1812.3" cy="1296.6" r="6.2"/>
<circle cx="1744.4" cy="1297.1" r="6.2"/>
<circle cx="1848.0" cy="1297.9" r="6.2"/>
<circle cx="1510.2" cy="1299.2" r="6.2"/>
<circle cx="1690.7" cy="1301.1" r="6.2"/>
<circle cx="1646.6" cy="1301.8" r="6.2"/>
<circle cx="1580.5" cy="1304.2" r="6.2"/>
<circle cx="1683.6" cy="1305.0" r="6.2"/>
<circle cx="1830.8" cy="1306.3" r="6.2"/>
<circle cx="1842.7" cy="1306.3" r="6.2"/>
<circle cx="1801.5" cy="1307.1" r="6.2"/>
<circle cx="1752.0" cy="1308.5" r="6.2"/>
<circle cx="1781.4" cy="1309.0" r="6.2"/>
<circle cx="1788.0" cy="1309.0" r="6.2"/>
<circle cx="1723.0" cy="1310.3" r="6.2"/>
<circle cx="1624.6" cy="1311.1" r="6.2"/>
<circle cx="1501.2" cy="1311.1" r="6.2"/>
<circle cx="1656.4" cy="1311.1" r="6.2"/>
<circle cx="1688.1" cy="1309.8" r="6.2"/>
<circle cx="1515.5" cy="1312.9" r="6.2"/>
<circle cx="1815.0" cy="1312.9" r="6.2"/>
<circle cx="1665.1" cy="1315.1" r="6.2"/>
<circle cx="1521.5" cy="1316.1" r="6.2"/>
<circle cx="1480.6" cy="1316.4" r="6.2"/>
<circle cx="1613.5" cy="1316.9" r="6.2"/>
<circle cx="1688.9" cy="1320.1" r="6.2"/>
<circle cx="1852.0" cy="1320.1" r="6.2"/>
<circle cx="1641.3" cy="1320.9" r="6.2"/>
<circle cx="1794.6" cy="1320.1" r="6.2"/>
<circle cx="1493.3" cy="1322.2" r="6.2"/>
<circle cx="1718.5" cy="1322.2" r="6.2"/>
<circle cx="1532.1" cy="1327.1" r="6.2"/>
<circle cx="1787.2" cy="1324.8" r="6.2"/>
<circle cx="335.5" cy="1330.3" r="6.2"/>
<circle cx="379.1" cy="1330.8" r="6.2"/>
<circle cx="435.7" cy="1329.0" r="6.2"/>
<circle cx="431.2" cy="1335.6" r="6.2"/>
<circle cx="401.6" cy="1334.8" r="6.2"/>
<circle cx="577.9" cy="1329.0" r="6.2"/>
<circle cx="583.2" cy="1333.5" r="6.2"/>
<circle cx="594.5" cy="1331.9" r="6.2"/>
<circle cx="258.0" cy="1336.9" r="6.2"/>
<circle cx="280.0" cy="1335.6" r="6.2"/>
<circle cx="315.7" cy="1337.4" r="6.2"/>
<circle cx="309.1" cy="1341.7" r="6.2"/>
<circle cx="366.9" cy="1343.0" r="6.2"/>
<circle cx="403.7" cy="1344.0" r="6.2"/>
<circle cx="529.2" cy="1343.5" r="6.2"/>
<circle cx="544.0" cy="1342.2" r="6.2"/>
<circle cx="333.4" cy="1346.1" r="6.2"/>
<circle cx="340.0" cy="1346.1" r="6.2"/>
<circle cx="614.1" cy="1345.1" r="6.2"/>
<circle cx="425.9" cy="1352.0" r="6.2"/>
<circle cx="446.2" cy="1354.6" r="6.2"/>
<circle cx="261.5" cy="1355.7" r="6.2"/>
<circle cx="472.1" cy="1359.9" r="6.2"/>
<circle cx="542.2" cy="1358.8" r="6.2"/>
<circle cx="610.4" cy="1361.2" r="6.2"/>
<circle cx="628.9" cy="1360.9" r="6.2"/>
<circle cx="552.0" cy="1364.6" r="6.2"/>
<circle cx="559.4" cy="1366.8" r="6.2"/>
<circle cx="590.3" cy="1365.4" r="6.2"/>
<circle cx="601.1" cy="1367.3" r="6.2"/>
<circle cx="331.8" cy="1367.3" r="6.2"/>
<circle cx="350.0" cy="1368.9" r="6.2"/>
<circle cx="381.5" cy="1369.1" r="6.2"/>
<circle cx="531.1" cy="1369.1" r="6.2"/>
<circle cx="270.7" cy="1374.4" r="6.2"/>
<circle cx="396.3" cy="1374.4" r="6.2"/>
<circle cx="549.6" cy="1376.0" r="6.2"/>
<circle cx="492.2" cy="1378.7" r="6.2"/>
<circle cx="455.5" cy="1379.5" r="6.2"/>
<circle cx="510.7" cy="1380.2" r="6.2"/>
<circle cx="363.0" cy="1380.5" r="6.2"/>
<circle cx="420.3" cy="1382.6" r="6.2"/>
<circle cx="597.4" cy="1385.5" r="6.2"/>
<circle cx="462.9" cy="1388.4" r="6.2"/>
<circle cx="440.4" cy="1391.3" r="6.2"/>
<circle cx="294.8" cy="1392.7" r="6.2"/>
<circle cx="353.7" cy="1394.3" r="6.2"/>
<circle cx="573.4" cy="1395.0" r="6.2"/>
<circle cx="581.3" cy="1398.0" r="6.2"/>
<circle cx="576.0" cy="1398.2" r="6.2"/>
<circle cx="304.0" cy="1402.7" r="6.2"/>
<circle cx="384.9" cy="1404.3" r="6.2"/>
<circle cx="391.0" cy="1409.3" r="6.2"/>
<circle cx="409.2" cy="1409.1" r="6.2"/>
<circle cx="507.0" cy="1407.5" r="6.2"/>
<circle cx="509.4" cy="1411.2" r="6.2"/>
<circle cx="287.4" cy="1423.3" r="6.2"/>
<circle cx="277.9" cy="1427.6" r="6.2"/>
<circle cx="618.1" cy="1431.3" r="6.2"/>
<circle cx="488.5" cy="1435.2" r="6.2"/>
<circle cx="421.9" cy="1437.9" r="6.2"/>
<circle cx="449.9" cy="1440.0" r="6.2"/>
<circle cx="281.8" cy="1442.1" r="6.2"/>
<circle cx="623.6" cy="1445.3" r="6.2"/>
<circle cx="641.3" cy="1447.4" r="6.2"/>
<circle cx="461.0" cy="1453.5" r="6.2"/>
<circle cx="365.1" cy="1457.2" r="6.2"/>
<circle cx="518.1" cy="1458.8" r="6.2"/>
<circle cx="490.4" cy="1480.4" r="6.2"/>
<circle cx="503.3" cy="1481.2" r="6.2"/>
<circle cx="637.4" cy="1485.2" r="6.2"/>
<circle cx="521.8" cy="1503.7" r="6.2"/>
<circle cx="571.5" cy="1524.6" r="6.2"/>
<circle cx="569.4" cy="1528.0" r="6.2"/>
<circle cx="501.5" cy="1531.2" r="6.2"/>
<circle cx="523.7" cy="1530.6" r="6.2"/>
<circle cx="568.1" cy="1561.3" r="6.2"/>
<circle cx="566.0" cy="1575.9" r="6.2"/>
<circle cx="376.2" cy="1628.5" r="6.2"/>
<circle cx="695.5" cy="1327.1" r="6.2"/>
<circle cx="861.5" cy="1327.1" r="6.2"/>
<circle cx="969.1" cy="1326.3" r="6.2"/>
<circle cx="1020.6" cy="1329.0" r="6.2"/>
<circle cx="741.8" cy="1332.9" r="6.2"/>
<circle cx="748.9" cy="1335.0" r="6.2"/>
<circle cx="769.5" cy="1332.1" r="6.2"/>
<circle cx="785.4" cy="1335.6" r="6.2"/>
<circle cx="792.3" cy="1335.6" r="6.2"/>
<circle cx="830.3" cy="1336.9" r="6.2"/>
<circle cx="963.0" cy="1335.0" r="6.2"/>
<circle cx="979.9" cy="1336.9" r="6.2"/>
<circle cx="915.2" cy="1339.0" r="6.2"/>
<circle cx="737.8" cy="1339.5" r="6.2"/>
<circle cx="808.1" cy="1339.5" r="6.2"/>
<circle cx="645.8" cy="1343.5" r="6.2"/>
<circle cx="753.7" cy="1343.5" r="6.2"/>
<circle cx="841.4" cy="1344.0" r="6.2"/>
<circle cx="817.1" cy="1345.6" r="6.2"/>
<circle cx="758.2" cy="1348.8" r="6.2"/>
<circle cx="682.6" cy="1350.4" r="6.2"/>
<circle cx="988.9" cy="1356.2" r="6.2"/>
<circle cx="821.1" cy="1357.2" r="6.2"/>
<circle cx="942.7" cy="1358.8" r="6.2"/>
<circle cx="938.7" cy="1362.5" r="6.2"/>
<circle cx="731.2" cy="1362.0" r="6.2"/>
<circle cx="949.3" cy="1362.8" r="6.2"/>
<circle cx="956.4" cy="1365.2" r="6.2"/>
<circle cx="811.8" cy="1370.5" r="6.2"/>
<circle cx="721.1" cy="1374.2" r="6.2"/>
<circle cx="793.3" cy="1376.5" r="6.2"/>
<circle cx="806.3" cy="1378.9" r="6.2"/>
<circle cx="946.6" cy="1379.2" r="6.2"/>
<circle cx="795.2" cy="1383.2" r="6.2"/>
<circle cx="706.3" cy="1384.2" r="6.2"/>
<circle cx="1018.5" cy="1383.2" r="6.2"/>
<circle cx="880.0" cy="1387.4" r="6.2"/>
<circle cx="918.9" cy="1389.5" r="6.2"/>
<circle cx="667.5" cy="1394.3" r="6.2"/>
<circle cx="961.4" cy="1395.0" r="6.2"/>
<circle cx="926.3" cy="1399.0" r="6.2"/>
<circle cx="663.8" cy="1401.7" r="6.2"/>
<circle cx="761.9" cy="1401.9" r="6.2"/>
<circle cx="894.6" cy="1401.7" r="6.2"/>
<circle cx="991.8" cy="1401.4" r="6.2"/>
<circle cx="920.7" cy="1405.1" r="6.2"/>
<circle cx="1031.5" cy="1407.2" r="6.2"/>
<circle cx="691.5" cy="1411.4" r="6.2"/>
<circle cx="828.2" cy="1411.7" r="6.2"/>
<circle cx="950.3" cy="1410.9" r="6.2"/>
<circle cx="710.3" cy="1418.0" r="6.2"/>
<circle cx="994.7" cy="1417.3" r="6.2"/>
<circle cx="865.5" cy="1424.4" r="6.2"/>
<circle cx="1025.9" cy="1432.8" r="6.2"/>
<circle cx="869.2" cy="1438.4" r="6.2"/>
<circle cx="952.2" cy="1437.6" r="6.2"/>
<circle cx="647.4" cy="1440.0" r="6.2"/>
<circle cx="900.4" cy="1477.0" r="6.2"/>
<circle cx="771.4" cy="1475.9" r="6.2"/>
<circle cx="800.7" cy="1474.6" r="6.2"/>
<circle cx="1033.3" cy="1474.3" r="6.2"/>
<circle cx="1052.4" cy="1483.6" r="6.2"/>
<circle cx="1028.0" cy="1496.0" r="6.2"/>
<circle cx="765.6" cy="1511.6" r="6.2"/>
<circle cx="1029.9" cy="1524.8" r="6.2"/>
<circle cx="1024.1" cy="1529.1" r="6.2"/>
<circle cx="1060.8" cy="1330.3" r="6.2"/>
<circle cx="1087.2" cy="1332.1" r="6.2"/>
<circle cx="1116.3" cy="1327.1" r="6.2"/>
<circle cx="1151.5" cy="1330.3" r="6.2"/>
<circle cx="1349.2" cy="1329.5" r="6.2"/>
<circle cx="1415.8" cy="1332.4" r="6.2"/>
<circle cx="1129.5" cy="1336.9" r="6.2"/>
<circle cx="1181.1" cy="1338.2" r="6.2"/>
<circle cx="1231.3" cy="1336.1" r="6.2"/>
<circle cx="1384.1" cy="1333.5" r="6.2"/>
<circle cx="1375.4" cy="1337.7" r="6.2"/>
<circle cx="1290.3" cy="1338.7" r="6.2"/>
<circle cx="1298.2" cy="1338.7" r="6.2"/>
<circle cx="1131.7" cy="1343.0" r="6.2"/>
<circle cx="1253.2" cy="1342.7" r="6.2"/>
<circle cx="1221.5" cy="1345.4" r="6.2"/>
<circle cx="1166.8" cy="1344.8" r="6.2"/>
<circle cx="1161.5" cy="1347.5" r="6.2"/>
<circle cx="1341.8" cy="1344.8" r="6.2"/>
<circle cx="1127.7" cy="1351.4" r="6.2"/>
<circle cx="1225.5" cy="1352.2" r="6.2"/>
<circle cx="1287.1" cy="1352.0" r="6.2"/>
<circle cx="1336.0" cy="1353.0" r="6.2"/>
<circle cx="1096.5" cy="1355.4" r="6.2"/>
<circle cx="1280.5" cy="1356.7" r="6.2"/>
<circle cx="1299.5" cy="1355.1" r="6.2"/>
<circle cx="1428.5" cy="1354.3" r="6.2"/>
<circle cx="1140.4" cy="1359.4" r="6.2"/>
<circle cx="1324.9" cy="1359.4" r="6.2"/>
<circle cx="1190.3" cy="1364.1" r="6.2"/>
<circle cx="1406.6" cy="1366.0" r="6.2"/>
<circle cx="1262.5" cy="1366.5" r="6.2"/>
<circle cx="1154.1" cy="1366.8" r="6.2"/>
<circle cx="1399.4" cy="1368.1" r="6.2"/>
<circle cx="1425.1" cy="1368.1" r="6.2"/>
<circle cx="1109.2" cy="1369.9" r="6.2"/>
<circle cx="1198.0" cy="1368.9" r="6.2"/>
<circle cx="1419.2" cy="1370.5" r="6.2"/>
<circle cx="1441.7" cy="1371.5" r="6.2"/>
<circle cx="1065.0" cy="1372.6" r="6.2"/>
<circle cx="1081.4" cy="1374.2" r="6.2"/>
<circle cx="1284.4" cy="1375.2" r="6.2"/>
<circle cx="1395.2" cy="1375.8" r="6.2"/>
<circle cx="1072.2" cy="1377.9" r="6.2"/>
<circle cx="1472.1" cy="1379.2" r="6.2"/>
<circle cx="1142.2" cy="1381.0" r="6.2"/>
<circle cx="1450.7" cy="1381.6" r="6.2"/>
<circle cx="1423.2" cy="1382.4" r="6.2"/>
<circle cx="1066.4" cy="1384.5" r="6.2"/>
<circle cx="1170.5" cy="1385.3" r="6.2"/>
<circle cx="1168.1" cy="1391.1" r="6.2"/>
<circle cx="1400.7" cy="1395.6" r="6.2"/>
<circle cx="1158.9" cy="1397.4" r="6.2"/>
<circle cx="1393.3" cy="1399.5" r="6.2"/>
<circle cx="1070.3" cy="1404.3" r="6.2"/>
<circle cx="1110.8" cy="1403.2" r="6.2"/>
<circle cx="1122.1" cy="1403.8" r="6.2"/>
<circle cx="1292.1" cy="1407.5" r="6.2"/>
<circle cx="1369.6" cy="1408.0" r="6.2"/>
<circle cx="1456.5" cy="1412.5" r="6.2"/>
<circle cx="1074.0" cy="1418.3" r="6.2"/>
<circle cx="1236.3" cy="1418.3" r="6.2"/>
<circle cx="1410.0" cy="1419.6" r="6.2"/>
<circle cx="1076.1" cy="1422.8" r="6.2"/>
<circle cx="1323.3" cy="1425.2" r="6.2"/>
<circle cx="1301.1" cy="1427.3" r="6.2"/>
<circle cx="1347.1" cy="1435.0" r="6.2"/>
<circle cx="1099.9" cy="1439.7" r="6.2"/>
<circle cx="1240.0" cy="1451.1" r="6.2"/>
<circle cx="1293.7" cy="1458.5" r="6.2"/>
<circle cx="1306.6" cy="1458.5" r="6.2"/>
<circle cx="1102.1" cy="1476.2" r="6.2"/>
<circle cx="1107.9" cy="1475.4" r="6.2"/>
<circle cx="1295.5" cy="1486.2" r="6.2"/>
<circle cx="1330.7" cy="1494.2" r="6.2"/>
<circle cx="1371.4" cy="1500.5" r="6.2"/>
<circle cx="1090.7" cy="1564.0" r="6.2"/>
<circle cx="1288.1" cy="1620.8" r="6.2"/>
<circle cx="1609.6" cy="1337.7" r="6.2"/>
<circle cx="1633.6" cy="1336.1" r="6.2"/>
<circle cx="1701.8" cy="1336.1" r="6.2"/>
<circle cx="1771.9" cy="1338.7" r="6.2"/>
<circle cx="1783.2" cy="1337.4" r="6.2"/>
<circle cx="1840.1" cy="1333.5" r="6.2"/>
<circle cx="1836.1" cy="1339.5" r="6.2"/>
<circle cx="1729.3" cy="1344.3" r="6.2"/>
<circle cx="1849.8" cy="1343.5" r="6.2"/>
<circle cx="1845.4" cy="1347.2" r="6.2"/>
<circle cx="1508.3" cy="1348.0" r="6.2"/>
<circle cx="1562.5" cy="1346.1" r="6.2"/>
<circle cx="1572.6" cy="1345.4" r="6.2"/>
<circle cx="1631.8" cy="1352.2" r="6.2"/>
<circle cx="1777.9" cy="1350.9" r="6.2"/>
<circle cx="1770.0" cy="1353.3" r="6.2"/>
<circle cx="1563.3" cy="1360.4" r="6.2"/>
<circle cx="1713.2" cy="1359.4" r="6.2"/>
<circle cx="1753.6" cy="1359.4" r="6.2"/>
<circle cx="1825.5" cy="1360.7" r="6.2"/>
<circle cx="1670.1" cy="1366.8" r="6.2"/>
<circle cx="1821.6" cy="1366.5" r="6.2"/>
<circle cx="1828.2" cy="1367.3" r="6.2"/>
<circle cx="1594.8" cy="1369.1" r="6.2"/>
<circle cx="1727.7" cy="1372.6" r="6.2"/>
<circle cx="1626.2" cy="1374.4" r="6.2"/>
<circle cx="1657.4" cy="1375.8" r="6.2"/>
<circle cx="1698.1" cy="1374.7" r="6.2"/>
<circle cx="1706.0" cy="1373.9" r="6.2"/>
<circle cx="1735.7" cy="1376.0" r="6.2"/>
<circle cx="1478.7" cy="1375.8" r="6.2"/>
<circle cx="1498.8" cy="1380.2" r="6.2"/>
<circle cx="1799.9" cy="1378.7" r="6.2"/>
<circle cx="1576.5" cy="1380.5" r="6.2"/>
<circle cx="1725.1" cy="1381.3" r="6.2"/>
<circle cx="1597.1" cy="1385.8" r="6.2"/>
<circle cx="1522.9" cy="1387.9" r="6.2"/>
<circle cx="1709.2" cy="1387.6" r="6.2"/>
<circle cx="1824.2" cy="1386.9" r="6.2"/>
<circle cx="1474.8" cy="1389.0" r="6.2"/>
<circle cx="1585.8" cy="1389.8" r="6.2"/>
<circle cx="1720.6" cy="1389.5" r="6.2"/>
<circle cx="1803.6" cy="1393.7" r="6.2"/>
<circle cx="1519.2" cy="1396.4" r="6.2"/>
<circle cx="1600.8" cy="1396.4" r="6.2"/>
<circle cx="1550.4" cy="1399.0" r="6.2"/>
<circle cx="1711.1" cy="1398.7" r="6.2"/>
<circle cx="1591.1" cy="1401.1" r="6.2"/>
<circle cx="1818.4" cy="1404.0" r="6.2"/>
<circle cx="1476.6" cy="1405.9" r="6.2"/>
<circle cx="1768.7" cy="1408.3" r="6.2"/>
<circle cx="1604.0" cy="1410.6" r="6.2"/>
<circle cx="1766.3" cy="1417.5" r="6.2"/>
<circle cx="1589.2" cy="1422.5" r="6.2"/>
<circle cx="1574.4" cy="1424.4" r="6.2"/>
<circle cx="1635.5" cy="1426.8" r="6.2"/>
<circle cx="1618.8" cy="1435.0" r="6.2"/>
<circle cx="1491.4" cy="1440.0" r="6.2"/>
<circle cx="1607.7" cy="1443.2" r="6.2"/>
<circle cx="1707.4" cy="1444.5" r="6.2"/>
<circle cx="1816.5" cy="1452.4" r="6.2"/>
<circle cx="1651.9" cy="1456.6" r="6.2"/>
<circle cx="1700.0" cy="1459.5" r="6.2"/>
<circle cx="1567.0" cy="1472.5" r="6.2"/>
<circle cx="1597.7" cy="1479.6" r="6.2"/>
<circle cx="1603.0" cy="1479.1" r="6.2"/>
<circle cx="1681.5" cy="1489.7" r="6.2"/>
<circle cx="1570.7" cy="1502.9" r="6.2"/>
<circle cx="1583.9" cy="1529.1" r="6.2"/>
<circle cx="1620.7" cy="1539.4" r="6.2"/>
<circle cx="1605.9" cy="1581.9" r="6.2"/>
<circle cx="1685.4" cy="1630.3" r="6.2"/>
</g>
<rect x="226.0" y="1004.9" width="1657.5" height="637.9" fill="none" stroke="#000" stroke-width="5.9"/>
<text class="b" font-size="42.5" text-anchor="end" transform="translate(190.50 1096.00) scale(1 1.05)">30</text>
<text class="b" font-size="42.5" text-anchor="end" transform="translate(190.50 1181.50) scale(1 1.05)">20</text>
<path transform="translate(144.90 1267.00) scale(42.5 -42.5)" d="M.3557 .707L.255 .707C.24 .63 .17 .5875 .0493 .5875L.0493 .489L.213 .489L.213 0L.3557 0Z"/>
<text class="b" font-size="42.5" text-anchor="end" transform="translate(190.50 1267.00) scale(1 1.05)">0</text>
<text class="b" font-size="42.5" text-anchor="end" transform="translate(190.50 1352.50) scale(1 1.05)">0</text>
<path transform="translate(144.90 1438.00) scale(42.5 -42.5)" d="M.3557 .707L.255 .707C.24 .63 .17 .5875 .0493 .5875L.0493 .489L.213 .489L.213 0L.3557 0Z"/>
<text class="b" font-size="42.5" text-anchor="end" transform="translate(190.50 1438.00) scale(1 1.05)">0</text>
<rect x="120.5" y="1425.75" width="21.6" height="5.3" fill="#000"/>
<text class="b" font-size="42.5" text-anchor="end" transform="translate(190.50 1523.50) scale(1 1.05)">20</text>
<rect x="120.5" y="1511.25" width="21.6" height="5.3" fill="#000"/>
<text class="b" font-size="42.5" text-anchor="end" transform="translate(190.50 1609.00) scale(1 1.05)">30</text>
<rect x="120.5" y="1596.75" width="21.6" height="5.3" fill="#000"/>
<text class="b" font-size="42.5" text-anchor="middle" transform="translate(258.00 1708.80) scale(1 1.05)">0</text>
<text class="b" font-size="42.5" text-anchor="middle" transform="translate(390.96 1708.80) scale(1 1.05)">6</text>
<path transform="translate(500.68 1708.80) scale(42.5 -42.5)" d="M.3557 .707L.255 .707C.24 .63 .17 .5875 .0493 .5875L.0493 .489L.213 .489L.213 0L.3557 0Z"/>
<text class="b" font-size="42.5" text-anchor="start" transform="translate(523.91 1708.80) scale(1 1.05)">2</text>
<path transform="translate(633.64 1708.80) scale(42.5 -42.5)" d="M.3557 .707L.255 .707C.24 .63 .17 .5875 .0493 .5875L.0493 .489L.213 .489L.213 0L.3557 0Z"/>
<text class="b" font-size="42.5" text-anchor="start" transform="translate(656.87 1708.80) scale(1 1.05)">8</text>
<text class="b" font-size="42.5" text-anchor="middle" transform="translate(789.83 1708.80) scale(1 1.05)">24</text>
<text class="b" font-size="42.5" text-anchor="middle" transform="translate(922.78 1708.80) scale(1 1.05)">30</text>
<text class="b" font-size="42.5" text-anchor="middle" transform="translate(1055.74 1708.80) scale(1 1.05)">36</text>
<text class="b" font-size="42.5" text-anchor="middle" transform="translate(1188.69 1708.80) scale(1 1.05)">42</text>
<text class="b" font-size="42.5" text-anchor="middle" transform="translate(1321.65 1708.80) scale(1 1.05)">48</text>
<text class="b" font-size="42.5" text-anchor="middle" transform="translate(1454.61 1708.80) scale(1 1.05)">54</text>
<text class="b" font-size="42.5" text-anchor="middle" transform="translate(1587.56 1708.80) scale(1 1.05)">60</text>
<text class="b" font-size="42.5" text-anchor="middle" transform="translate(1720.52 1708.80) scale(1 1.05)">66</text>
<text class="b" font-size="42.5" text-anchor="middle" transform="translate(1853.48 1708.80) scale(1 1.05)">72</text>
<text font-size="42.4" text-anchor="middle" transform="translate(89.90 1323.85) rotate(-90) scale(1 1.044)">North (mm)</text>
<path d="M258.00 1818.05v-16.2M258.00 2461.85v16.2M302.32 1818.05v-7.0M302.32 2461.85v7.0M346.64 1818.05v-7.0M346.64 2461.85v7.0M390.96 1818.05v-16.2M390.96 2461.85v16.2M435.28 1818.05v-7.0M435.28 2461.85v7.0M479.59 1818.05v-7.0M479.59 2461.85v7.0M523.91 1818.05v-16.2M523.91 2461.85v16.2M568.23 1818.05v-7.0M568.23 2461.85v7.0M612.55 1818.05v-7.0M612.55 2461.85v7.0M656.87 1818.05v-16.2M656.87 2461.85v16.2M701.19 1818.05v-7.0M701.19 2461.85v7.0M745.51 1818.05v-7.0M745.51 2461.85v7.0M789.83 1818.05v-16.2M789.83 2461.85v16.2M834.14 1818.05v-7.0M834.14 2461.85v7.0M878.46 1818.05v-7.0M878.46 2461.85v7.0M922.78 1818.05v-16.2M922.78 2461.85v16.2M967.10 1818.05v-7.0M967.10 2461.85v7.0M1011.42 1818.05v-7.0M1011.42 2461.85v7.0M1055.74 1818.05v-16.2M1055.74 2461.85v16.2M1100.06 1818.05v-7.0M1100.06 2461.85v7.0M1144.38 1818.05v-7.0M1144.38 2461.85v7.0M1188.69 1818.05v-16.2M1188.69 2461.85v16.2M1233.01 1818.05v-7.0M1233.01 2461.85v7.0M1277.33 1818.05v-7.0M1277.33 2461.85v7.0M1321.65 1818.05v-16.2M1321.65 2461.85v16.2M1365.97 1818.05v-7.0M1365.97 2461.85v7.0M1410.29 1818.05v-7.0M1410.29 2461.85v7.0M1454.61 1818.05v-16.2M1454.61 2461.85v16.2M1498.93 1818.05v-7.0M1498.93 2461.85v7.0M1543.25 1818.05v-7.0M1543.25 2461.85v7.0M1587.56 1818.05v-16.2M1587.56 2461.85v16.2M1631.88 1818.05v-7.0M1631.88 2461.85v7.0M1676.20 1818.05v-7.0M1676.20 2461.85v7.0M1720.52 1818.05v-16.2M1720.52 2461.85v16.2M1764.84 1818.05v-7.0M1764.84 2461.85v7.0M1809.16 1818.05v-7.0M1809.16 2461.85v7.0M1853.48 1818.05v-16.2M1853.48 2461.85v16.2" stroke="#000" stroke-width="2.4" fill="none"/>
<path d="M223.05 1893.32h-16M1886.45 1893.32h16M223.05 2024.11h-16M1886.45 2024.11h16M223.05 2154.90h-16M1886.45 2154.90h16M223.05 2285.69h-16M1886.45 2285.69h16M223.05 2416.48h-16M1886.45 2416.48h16" stroke="#000" stroke-width="2.8" fill="none"/>
<g class="d" fill="#0000ff" id="p2">
<circle cx="523.7" cy="2011.4" r="6.2"/>
<circle cx="292.9" cy="2032.3" r="6.2"/>
<circle cx="527.7" cy="2038.9" r="6.2"/>
<circle cx="398.1" cy="2042.0" r="6.2"/>
<circle cx="392.3" cy="2052.6" r="6.2"/>
<circle cx="458.9" cy="2058.2" r="6.2"/>
<circle cx="274.4" cy="2069.5" r="6.2"/>
<circle cx="446.0" cy="2074.0" r="6.2"/>
<circle cx="403.7" cy="2077.2" r="6.2"/>
<circle cx="522.4" cy="2085.1" r="6.2"/>
<circle cx="517.9" cy="2087.5" r="6.2"/>
<circle cx="483.0" cy="2088.0" r="6.2"/>
<circle cx="495.9" cy="2095.4" r="6.2"/>
<circle cx="314.9" cy="2100.2" r="6.2"/>
<circle cx="394.2" cy="2098.9" r="6.2"/>
<circle cx="300.3" cy="2102.6" r="6.2"/>
<circle cx="400.8" cy="2102.3" r="6.2"/>
<circle cx="473.7" cy="2102.0" r="6.2"/>
<circle cx="364.8" cy="2103.9" r="6.2"/>
<circle cx="377.8" cy="2108.1" r="6.2"/>
<circle cx="402.1" cy="2109.4" r="6.2"/>
<circle cx="324.1" cy="2111.3" r="6.2"/>
<circle cx="375.1" cy="2111.3" r="6.2"/>
<circle cx="388.9" cy="2111.6" r="6.2"/>
<circle cx="309.6" cy="2112.9" r="6.2"/>
<circle cx="272.8" cy="2113.4" r="6.2"/>
<circle cx="291.1" cy="2117.4" r="6.2"/>
<circle cx="479.3" cy="2116.8" r="6.2"/>
<circle cx="586.9" cy="2118.2" r="6.2"/>
<circle cx="466.9" cy="2118.2" r="6.2"/>
<circle cx="344.5" cy="2119.8" r="6.2"/>
<circle cx="305.6" cy="2120.8" r="6.2"/>
<circle cx="464.2" cy="2120.8" r="6.2"/>
<circle cx="296.6" cy="2128.7" r="6.2"/>
<circle cx="331.8" cy="2129.8" r="6.2"/>
<circle cx="470.0" cy="2134.6" r="6.2"/>
<circle cx="447.8" cy="2136.4" r="6.2"/>
<circle cx="456.3" cy="2137.7" r="6.2"/>
<circle cx="588.5" cy="2137.2" r="6.2"/>
<circle cx="379.6" cy="2138.5" r="6.2"/>
<circle cx="261.5" cy="2139.3" r="6.2"/>
<circle cx="295.0" cy="2139.8" r="6.2"/>
<circle cx="1052.9" cy="1945.6" r="6.2"/>
<circle cx="826.6" cy="1950.8" r="6.2"/>
<circle cx="822.9" cy="2003.7" r="6.2"/>
<circle cx="1057.6" cy="2016.4" r="6.2"/>
<circle cx="684.4" cy="2032.3" r="6.2"/>
<circle cx="673.3" cy="2046.5" r="6.2"/>
<circle cx="970.7" cy="2054.5" r="6.2"/>
<circle cx="787.5" cy="2063.2" r="6.2"/>
<circle cx="824.5" cy="2062.1" r="6.2"/>
<circle cx="939.2" cy="2070.9" r="6.2"/>
<circle cx="1035.2" cy="2071.4" r="6.2"/>
<circle cx="974.4" cy="2069.8" r="6.2"/>
<circle cx="671.7" cy="2074.3" r="6.2"/>
<circle cx="867.1" cy="2074.0" r="6.2"/>
<circle cx="782.2" cy="2075.6" r="6.2"/>
<circle cx="804.4" cy="2075.3" r="6.2"/>
<circle cx="976.2" cy="2077.2" r="6.2"/>
<circle cx="680.4" cy="2080.4" r="6.2"/>
<circle cx="841.7" cy="2080.4" r="6.2"/>
<circle cx="765.6" cy="2082.2" r="6.2"/>
<circle cx="843.5" cy="2083.8" r="6.2"/>
<circle cx="905.9" cy="2085.7" r="6.2"/>
<circle cx="921.0" cy="2084.9" r="6.2"/>
<circle cx="930.8" cy="2085.1" r="6.2"/>
<circle cx="955.9" cy="2089.9" r="6.2"/>
<circle cx="797.0" cy="2091.2" r="6.2"/>
<circle cx="854.1" cy="2091.7" r="6.2"/>
<circle cx="883.7" cy="2093.8" r="6.2"/>
<circle cx="834.3" cy="2096.8" r="6.2"/>
<circle cx="838.2" cy="2096.2" r="6.2"/>
<circle cx="978.3" cy="2100.2" r="6.2"/>
<circle cx="922.3" cy="2101.0" r="6.2"/>
<circle cx="933.9" cy="2102.0" r="6.2"/>
<circle cx="780.4" cy="2103.9" r="6.2"/>
<circle cx="914.9" cy="2103.9" r="6.2"/>
<circle cx="852.3" cy="2104.9" r="6.2"/>
<circle cx="980.2" cy="2106.8" r="6.2"/>
<circle cx="924.2" cy="2108.6" r="6.2"/>
<circle cx="798.6" cy="2116.6" r="6.2"/>
<circle cx="667.8" cy="2116.8" r="6.2"/>
<circle cx="961.7" cy="2114.7" r="6.2"/>
<circle cx="1004.8" cy="2115.3" r="6.2"/>
<circle cx="1010.1" cy="2115.5" r="6.2"/>
<circle cx="909.6" cy="2117.4" r="6.2"/>
<circle cx="1036.8" cy="2118.7" r="6.2"/>
<circle cx="941.3" cy="2119.5" r="6.2"/>
<circle cx="839.6" cy="2121.9" r="6.2"/>
<circle cx="850.7" cy="2121.9" r="6.2"/>
<circle cx="862.0" cy="2122.7" r="6.2"/>
<circle cx="692.1" cy="2122.7" r="6.2"/>
<circle cx="768.2" cy="2122.7" r="6.2"/>
<circle cx="775.3" cy="2122.7" r="6.2"/>
<circle cx="801.2" cy="2124.0" r="6.2"/>
<circle cx="821.1" cy="2124.0" r="6.2"/>
<circle cx="934.7" cy="2123.2" r="6.2"/>
<circle cx="963.8" cy="2123.2" r="6.2"/>
<circle cx="686.3" cy="2126.1" r="6.2"/>
<circle cx="761.6" cy="2126.6" r="6.2"/>
<circle cx="747.1" cy="2127.2" r="6.2"/>
<circle cx="1022.8" cy="2127.2" r="6.2"/>
<circle cx="785.4" cy="2129.8" r="6.2"/>
<circle cx="928.1" cy="2129.3" r="6.2"/>
<circle cx="972.5" cy="2130.6" r="6.2"/>
<circle cx="1020.6" cy="2130.6" r="6.2"/>
<circle cx="918.9" cy="2130.6" r="6.2"/>
<circle cx="651.4" cy="2133.2" r="6.2"/>
<circle cx="714.8" cy="2133.2" r="6.2"/>
<circle cx="830.3" cy="2133.2" r="6.2"/>
<circle cx="847.5" cy="2131.9" r="6.2"/>
<circle cx="755.0" cy="2134.6" r="6.2"/>
<circle cx="819.2" cy="2135.9" r="6.2"/>
<circle cx="774.8" cy="2135.9" r="6.2"/>
<circle cx="782.7" cy="2135.9" r="6.2"/>
<circle cx="848.8" cy="2137.2" r="6.2"/>
<circle cx="914.9" cy="2135.9" r="6.2"/>
<circle cx="676.5" cy="2139.8" r="6.2"/>
<circle cx="690.2" cy="2139.8" r="6.2"/>
<circle cx="909.6" cy="2139.8" r="6.2"/>
<circle cx="1131.4" cy="1833.2" r="6.2"/>
<circle cx="1404.4" cy="1902.7" r="6.2"/>
<circle cx="1125.8" cy="1915.2" r="6.2"/>
<circle cx="1065.0" cy="1964.6" r="6.2"/>
<circle cx="1129.3" cy="1967.0" r="6.2"/>
<circle cx="1349.2" cy="1966.7" r="6.2"/>
<circle cx="1347.4" cy="1979.4" r="6.2"/>
<circle cx="1413.7" cy="1983.1" r="6.2"/>
<circle cx="1181.1" cy="1987.1" r="6.2"/>
<circle cx="1391.8" cy="1996.3" r="6.2"/>
<circle cx="1345.5" cy="1998.2" r="6.2"/>
<circle cx="1371.4" cy="2004.2" r="6.2"/>
<circle cx="1384.1" cy="2010.8" r="6.2"/>
<circle cx="1460.2" cy="2010.8" r="6.2"/>
<circle cx="1238.4" cy="2014.0" r="6.2"/>
<circle cx="1251.4" cy="2027.5" r="6.2"/>
<circle cx="1144.1" cy="2044.4" r="6.2"/>
<circle cx="1242.1" cy="2045.2" r="6.2"/>
<circle cx="1190.3" cy="2047.3" r="6.2"/>
<circle cx="1365.6" cy="2055.5" r="6.2"/>
<circle cx="1397.3" cy="2059.5" r="6.2"/>
<circle cx="1445.4" cy="2060.0" r="6.2"/>
<circle cx="1454.7" cy="2061.9" r="6.2"/>
<circle cx="1168.1" cy="2069.5" r="6.2"/>
<circle cx="1437.8" cy="2069.3" r="6.2"/>
<circle cx="1182.9" cy="2072.4" r="6.2"/>
<circle cx="1245.6" cy="2072.4" r="6.2"/>
<circle cx="1369.6" cy="2074.0" r="6.2"/>
<circle cx="1158.9" cy="2075.3" r="6.2"/>
<circle cx="1382.8" cy="2076.9" r="6.2"/>
<circle cx="1439.6" cy="2081.2" r="6.2"/>
<circle cx="1334.7" cy="2085.9" r="6.2"/>
<circle cx="1232.9" cy="2087.0" r="6.2"/>
<circle cx="1352.9" cy="2085.7" r="6.2"/>
<circle cx="1350.5" cy="2088.8" r="6.2"/>
<circle cx="1150.2" cy="2087.0" r="6.2"/>
<circle cx="1156.0" cy="2087.5" r="6.2"/>
<circle cx="1146.2" cy="2090.9" r="6.2"/>
<circle cx="1184.8" cy="2093.3" r="6.2"/>
<circle cx="1136.9" cy="2094.4" r="6.2"/>
<circle cx="1435.6" cy="2094.9" r="6.2"/>
<circle cx="1389.9" cy="2096.0" r="6.2"/>
<circle cx="1442.2" cy="2095.4" r="6.2"/>
<circle cx="1453.3" cy="2094.9" r="6.2"/>
<circle cx="1158.1" cy="2096.2" r="6.2"/>
<circle cx="1164.2" cy="2096.2" r="6.2"/>
<circle cx="1326.7" cy="2097.5" r="6.2"/>
<circle cx="1066.4" cy="2100.2" r="6.2"/>
<circle cx="1463.4" cy="2100.7" r="6.2"/>
<circle cx="1367.7" cy="2104.2" r="6.2"/>
<circle cx="1376.2" cy="2104.2" r="6.2"/>
<circle cx="1381.4" cy="2103.4" r="6.2"/>
<circle cx="1443.0" cy="2102.8" r="6.2"/>
<circle cx="1419.2" cy="2106.0" r="6.2"/>
<circle cx="1085.4" cy="2109.4" r="6.2"/>
<circle cx="1448.9" cy="2108.1" r="6.2"/>
<circle cx="1122.1" cy="2111.3" r="6.2"/>
<circle cx="1253.2" cy="2111.3" r="6.2"/>
<circle cx="1458.1" cy="2112.9" r="6.2"/>
<circle cx="1356.3" cy="2113.4" r="6.2"/>
<circle cx="1188.5" cy="2115.0" r="6.2"/>
<circle cx="1471.3" cy="2114.2" r="6.2"/>
<circle cx="1343.6" cy="2118.2" r="6.2"/>
<circle cx="1360.3" cy="2118.7" r="6.2"/>
<circle cx="1134.8" cy="2120.8" r="6.2"/>
<circle cx="1427.2" cy="2120.8" r="6.2"/>
<circle cx="1447.5" cy="2120.3" r="6.2"/>
<circle cx="1148.0" cy="2125.3" r="6.2"/>
<circle cx="1172.1" cy="2125.3" r="6.2"/>
<circle cx="1255.1" cy="2126.6" r="6.2"/>
<circle cx="1376.7" cy="2126.6" r="6.2"/>
<circle cx="1415.8" cy="2125.3" r="6.2"/>
<circle cx="1339.9" cy="2127.9" r="6.2"/>
<circle cx="1216.2" cy="2129.8" r="6.2"/>
<circle cx="1231.3" cy="2128.5" r="6.2"/>
<circle cx="1166.0" cy="2129.8" r="6.2"/>
<circle cx="1364.3" cy="2129.3" r="6.2"/>
<circle cx="1133.0" cy="2131.4" r="6.2"/>
<circle cx="1399.2" cy="2132.4" r="6.2"/>
<circle cx="1142.2" cy="2135.9" r="6.2"/>
<circle cx="1463.9" cy="2135.9" r="6.2"/>
<circle cx="1355.0" cy="2138.5" r="6.2"/>
<circle cx="1373.0" cy="2138.5" r="6.2"/>
<circle cx="1648.4" cy="1899.3" r="6.2"/>
<circle cx="1593.2" cy="1962.2" r="6.2"/>
<circle cx="1583.9" cy="1979.4" r="6.2"/>
<circle cx="1720.6" cy="2019.3" r="6.2"/>
<circle cx="1776.1" cy="2021.4" r="6.2"/>
<circle cx="1650.5" cy="2032.8" r="6.2"/>
<circle cx="1643.1" cy="2038.1" r="6.2"/>
<circle cx="1661.1" cy="2039.9" r="6.2"/>
<circle cx="1657.7" cy="2047.9" r="6.2"/>
<circle cx="1589.2" cy="2048.6" r="6.2"/>
<circle cx="1615.1" cy="2058.4" r="6.2"/>
<circle cx="1646.6" cy="2059.2" r="6.2"/>
<circle cx="1637.3" cy="2062.4" r="6.2"/>
<circle cx="1574.4" cy="2067.4" r="6.2"/>
<circle cx="1711.3" cy="2072.2" r="6.2"/>
<circle cx="1746.5" cy="2072.4" r="6.2"/>
<circle cx="1659.3" cy="2078.8" r="6.2"/>
<circle cx="1698.4" cy="2082.2" r="6.2"/>
<circle cx="1596.9" cy="2082.7" r="6.2"/>
<circle cx="1587.4" cy="2084.6" r="6.2"/>
<circle cx="1611.4" cy="2084.9" r="6.2"/>
<circle cx="1781.9" cy="2083.3" r="6.2"/>
<circle cx="1772.1" cy="2087.8" r="6.2"/>
<circle cx="1633.9" cy="2092.3" r="6.2"/>
<circle cx="1727.7" cy="2092.3" r="6.2"/>
<circle cx="1629.9" cy="2095.4" r="6.2"/>
<circle cx="1762.9" cy="2096.0" r="6.2"/>
<circle cx="1559.3" cy="2101.5" r="6.2"/>
<circle cx="1733.5" cy="2101.5" r="6.2"/>
<circle cx="1715.0" cy="2102.3" r="6.2"/>
<circle cx="1636.5" cy="2101.5" r="6.2"/>
<circle cx="1641.8" cy="2104.2" r="6.2"/>
<circle cx="1815.0" cy="2104.9" r="6.2"/>
<circle cx="1480.6" cy="2107.9" r="6.2"/>
<circle cx="1638.6" cy="2108.1" r="6.2"/>
<circle cx="1803.1" cy="2108.1" r="6.2"/>
<circle cx="1655.8" cy="2108.9" r="6.2"/>
<circle cx="1554.6" cy="2110.8" r="6.2"/>
<circle cx="1569.1" cy="2112.9" r="6.2"/>
<circle cx="1709.2" cy="2112.9" r="6.2"/>
<circle cx="1666.9" cy="2113.9" r="6.2"/>
<circle cx="1606.1" cy="2115.0" r="6.2"/>
<circle cx="1544.8" cy="2117.4" r="6.2"/>
<circle cx="1678.0" cy="2117.4" r="6.2"/>
<circle cx="1585.5" cy="2121.3" r="6.2"/>
<circle cx="1774.0" cy="2120.8" r="6.2"/>
<circle cx="1713.2" cy="2122.7" r="6.2"/>
<circle cx="1628.1" cy="2123.5" r="6.2"/>
<circle cx="1783.8" cy="2124.0" r="6.2"/>
<circle cx="1700.0" cy="2125.3" r="6.2"/>
<circle cx="1610.1" cy="2127.9" r="6.2"/>
<circle cx="1729.6" cy="2127.4" r="6.2"/>
<circle cx="1705.3" cy="2131.4" r="6.2"/>
<circle cx="1476.6" cy="2133.2" r="6.2"/>
<circle cx="1532.1" cy="2134.6" r="6.2"/>
<circle cx="1518.9" cy="2136.4" r="6.2"/>
<circle cx="1581.8" cy="2136.4" r="6.2"/>
<circle cx="1840.6" cy="2135.9" r="6.2"/>
<circle cx="1777.4" cy="2138.5" r="6.2"/>
<circle cx="1717.1" cy="2139.8" r="6.2"/>
<circle cx="1552.5" cy="2142.1" r="6.2"/>
<circle cx="304.3" cy="2145.8" r="6.2"/>
<circle cx="330.7" cy="2142.6" r="6.2"/>
<circle cx="337.3" cy="2143.4" r="6.2"/>
<circle cx="385.4" cy="2148.5" r="6.2"/>
<circle cx="438.6" cy="2151.9" r="6.2"/>
<circle cx="486.7" cy="2151.9" r="6.2"/>
<circle cx="462.9" cy="2151.1" r="6.2"/>
<circle cx="405.5" cy="2152.4" r="6.2"/>
<circle cx="396.8" cy="2153.2" r="6.2"/>
<circle cx="258.0" cy="2154.5" r="6.2"/>
<circle cx="307.7" cy="2155.3" r="6.2"/>
<circle cx="581.1" cy="2156.4" r="6.2"/>
<circle cx="266.0" cy="2158.5" r="6.2"/>
<circle cx="507.0" cy="2159.3" r="6.2"/>
<circle cx="467.7" cy="2161.1" r="6.2"/>
<circle cx="485.4" cy="2161.9" r="6.2"/>
<circle cx="476.1" cy="2161.7" r="6.2"/>
<circle cx="390.7" cy="2163.8" r="6.2"/>
<circle cx="267.3" cy="2166.4" r="6.2"/>
<circle cx="409.2" cy="2167.8" r="6.2"/>
<circle cx="512.6" cy="2170.4" r="6.2"/>
<circle cx="478.0" cy="2171.2" r="6.2"/>
<circle cx="625.2" cy="2170.9" r="6.2"/>
<circle cx="406.9" cy="2174.4" r="6.2"/>
<circle cx="268.6" cy="2175.7" r="6.2"/>
<circle cx="441.0" cy="2176.5" r="6.2"/>
<circle cx="283.7" cy="2179.1" r="6.2"/>
<circle cx="302.2" cy="2179.1" r="6.2"/>
<circle cx="641.3" cy="2179.6" r="6.2"/>
<circle cx="429.9" cy="2184.4" r="6.2"/>
<circle cx="437.8" cy="2185.5" r="6.2"/>
<circle cx="313.0" cy="2187.1" r="6.2"/>
<circle cx="480.9" cy="2187.6" r="6.2"/>
<circle cx="532.9" cy="2187.6" r="6.2"/>
<circle cx="420.3" cy="2188.6" r="6.2"/>
<circle cx="509.2" cy="2188.9" r="6.2"/>
<circle cx="519.7" cy="2189.7" r="6.2"/>
<circle cx="289.5" cy="2190.2" r="6.2"/>
<circle cx="539.0" cy="2190.2" r="6.2"/>
<circle cx="526.3" cy="2192.3" r="6.2"/>
<circle cx="490.1" cy="2192.1" r="6.2"/>
<circle cx="515.8" cy="2194.2" r="6.2"/>
<circle cx="322.5" cy="2195.5" r="6.2"/>
<circle cx="634.2" cy="2188.4" r="6.2"/>
<circle cx="370.6" cy="2201.3" r="6.2"/>
<circle cx="381.5" cy="2203.4" r="6.2"/>
<circle cx="444.1" cy="2202.6" r="6.2"/>
<circle cx="637.4" cy="2202.9" r="6.2"/>
<circle cx="340.8" cy="2204.8" r="6.2"/>
<circle cx="425.9" cy="2204.2" r="6.2"/>
<circle cx="505.2" cy="2205.6" r="6.2"/>
<circle cx="359.3" cy="2207.9" r="6.2"/>
<circle cx="433.0" cy="2209.3" r="6.2"/>
<circle cx="280.5" cy="2209.3" r="6.2"/>
<circle cx="286.3" cy="2210.8" r="6.2"/>
<circle cx="535.1" cy="2209.5" r="6.2"/>
<circle cx="383.6" cy="2210.8" r="6.2"/>
<circle cx="498.1" cy="2210.8" r="6.2"/>
<circle cx="320.7" cy="2212.7" r="6.2"/>
<circle cx="412.9" cy="2214.0" r="6.2"/>
<circle cx="328.1" cy="2217.2" r="6.2"/>
<circle cx="317.0" cy="2218.0" r="6.2"/>
<circle cx="372.2" cy="2221.4" r="6.2"/>
<circle cx="276.0" cy="2221.9" r="6.2"/>
<circle cx="627.6" cy="2220.6" r="6.2"/>
<circle cx="435.1" cy="2222.5" r="6.2"/>
<circle cx="457.1" cy="2222.5" r="6.2"/>
<circle cx="577.1" cy="2222.7" r="6.2"/>
<circle cx="555.1" cy="2224.9" r="6.2"/>
<circle cx="287.6" cy="2225.6" r="6.2"/>
<circle cx="594.3" cy="2225.9" r="6.2"/>
<circle cx="494.6" cy="2226.7" r="6.2"/>
<circle cx="618.3" cy="2225.1" r="6.2"/>
<circle cx="362.5" cy="2228.0" r="6.2"/>
<circle cx="387.0" cy="2228.3" r="6.2"/>
<circle cx="263.9" cy="2229.3" r="6.2"/>
<circle cx="342.6" cy="2229.6" r="6.2"/>
<circle cx="488.0" cy="2229.9" r="6.2"/>
<circle cx="514.4" cy="2230.1" r="6.2"/>
<circle cx="531.1" cy="2230.1" r="6.2"/>
<circle cx="451.0" cy="2231.2" r="6.2"/>
<circle cx="579.2" cy="2231.2" r="6.2"/>
<circle cx="270.7" cy="2233.3" r="6.2"/>
<circle cx="326.2" cy="2233.6" r="6.2"/>
<circle cx="453.6" cy="2237.0" r="6.2"/>
<circle cx="562.8" cy="2237.3" r="6.2"/>
<circle cx="311.4" cy="2239.7" r="6.2"/>
<circle cx="428.0" cy="2239.7" r="6.2"/>
<circle cx="603.0" cy="2239.4" r="6.2"/>
<circle cx="635.5" cy="2239.9" r="6.2"/>
<circle cx="499.9" cy="2242.0" r="6.2"/>
<circle cx="281.8" cy="2242.6" r="6.2"/>
<circle cx="277.9" cy="2244.4" r="6.2"/>
<circle cx="461.0" cy="2246.3" r="6.2"/>
<circle cx="423.2" cy="2247.1" r="6.2"/>
<circle cx="560.7" cy="2246.3" r="6.2"/>
<circle cx="298.5" cy="2248.1" r="6.2"/>
<circle cx="552.8" cy="2248.9" r="6.2"/>
<circle cx="595.9" cy="2248.9" r="6.2"/>
<circle cx="432.0" cy="2251.8" r="6.2"/>
<circle cx="536.6" cy="2252.9" r="6.2"/>
<circle cx="335.5" cy="2253.7" r="6.2"/>
<circle cx="346.9" cy="2253.1" r="6.2"/>
<circle cx="575.5" cy="2253.7" r="6.2"/>
<circle cx="318.8" cy="2256.3" r="6.2"/>
<circle cx="601.1" cy="2255.5" r="6.2"/>
<circle cx="629.4" cy="2258.2" r="6.2"/>
<circle cx="501.8" cy="2259.5" r="6.2"/>
<circle cx="357.2" cy="2261.1" r="6.2"/>
<circle cx="624.1" cy="2262.1" r="6.2"/>
<circle cx="503.3" cy="2266.1" r="6.2"/>
<circle cx="367.2" cy="2267.7" r="6.2"/>
<circle cx="614.4" cy="2268.7" r="6.2"/>
<circle cx="419.3" cy="2269.8" r="6.2"/>
<circle cx="411.4" cy="2276.4" r="6.2"/>
<circle cx="573.9" cy="2277.5" r="6.2"/>
<circle cx="590.0" cy="2281.9" r="6.2"/>
<circle cx="564.7" cy="2283.5" r="6.2"/>
<circle cx="616.2" cy="2283.5" r="6.2"/>
<circle cx="348.7" cy="2286.2" r="6.2"/>
<circle cx="356.4" cy="2286.2" r="6.2"/>
<circle cx="368.5" cy="2286.7" r="6.2"/>
<circle cx="416.1" cy="2286.7" r="6.2"/>
<circle cx="543.5" cy="2288.8" r="6.2"/>
<circle cx="539.6" cy="2293.3" r="6.2"/>
<circle cx="547.5" cy="2293.3" r="6.2"/>
<circle cx="610.4" cy="2293.8" r="6.2"/>
<circle cx="422.7" cy="2295.2" r="6.2"/>
<circle cx="449.7" cy="2297.3" r="6.2"/>
<circle cx="353.7" cy="2297.3" r="6.2"/>
<circle cx="338.9" cy="2298.1" r="6.2"/>
<circle cx="374.3" cy="2298.6" r="6.2"/>
<circle cx="568.1" cy="2298.1" r="6.2"/>
<circle cx="414.8" cy="2303.6" r="6.2"/>
<circle cx="605.6" cy="2303.1" r="6.2"/>
<circle cx="597.2" cy="2307.3" r="6.2"/>
<circle cx="570.7" cy="2309.2" r="6.2"/>
<circle cx="600.4" cy="2311.0" r="6.2"/>
<circle cx="350.0" cy="2312.3" r="6.2"/>
<circle cx="529.0" cy="2316.6" r="6.2"/>
<circle cx="551.4" cy="2317.9" r="6.2"/>
<circle cx="559.4" cy="2318.4" r="6.2"/>
<circle cx="510.7" cy="2321.1" r="6.2"/>
<circle cx="607.0" cy="2321.1" r="6.2"/>
<circle cx="583.2" cy="2322.9" r="6.2"/>
<circle cx="556.7" cy="2323.7" r="6.2"/>
<circle cx="608.8" cy="2327.1" r="6.2"/>
<circle cx="542.2" cy="2330.8" r="6.2"/>
<circle cx="591.9" cy="2331.4" r="6.2"/>
<circle cx="619.9" cy="2329.8" r="6.2"/>
<circle cx="351.9" cy="2335.3" r="6.2"/>
<circle cx="333.4" cy="2341.9" r="6.2"/>
<circle cx="546.2" cy="2343.8" r="6.2"/>
<circle cx="566.0" cy="2350.1" r="6.2"/>
<circle cx="621.5" cy="2349.6" r="6.2"/>
<circle cx="612.2" cy="2353.6" r="6.2"/>
<circle cx="584.5" cy="2355.2" r="6.2"/>
<circle cx="631.5" cy="2358.1" r="6.2"/>
<circle cx="642.1" cy="2366.0" r="6.2"/>
<circle cx="549.6" cy="2375.0" r="6.2"/>
<circle cx="772.2" cy="2144.8" r="6.2"/>
<circle cx="817.1" cy="2147.9" r="6.2"/>
<circle cx="810.5" cy="2151.9" r="6.2"/>
<circle cx="891.1" cy="2147.4" r="6.2"/>
<circle cx="967.0" cy="2147.1" r="6.2"/>
<circle cx="1014.8" cy="2146.6" r="6.2"/>
<circle cx="1042.6" cy="2144.8" r="6.2"/>
<circle cx="950.3" cy="2152.4" r="6.2"/>
<circle cx="998.7" cy="2154.5" r="6.2"/>
<circle cx="795.2" cy="2156.4" r="6.2"/>
<circle cx="1040.7" cy="2158.0" r="6.2"/>
<circle cx="859.9" cy="2159.0" r="6.2"/>
<circle cx="913.6" cy="2159.0" r="6.2"/>
<circle cx="937.4" cy="2159.3" r="6.2"/>
<circle cx="1018.5" cy="2159.3" r="6.2"/>
<circle cx="828.2" cy="2160.4" r="6.2"/>
<circle cx="986.3" cy="2160.6" r="6.2"/>
<circle cx="806.5" cy="2162.5" r="6.2"/>
<circle cx="874.5" cy="2163.0" r="6.2"/>
<circle cx="968.8" cy="2162.5" r="6.2"/>
<circle cx="845.1" cy="2163.5" r="6.2"/>
<circle cx="1002.1" cy="2161.7" r="6.2"/>
<circle cx="721.1" cy="2164.6" r="6.2"/>
<circle cx="888.5" cy="2165.6" r="6.2"/>
<circle cx="666.4" cy="2166.4" r="6.2"/>
<circle cx="992.9" cy="2166.4" r="6.2"/>
<circle cx="1051.0" cy="2165.1" r="6.2"/>
<circle cx="835.6" cy="2168.3" r="6.2"/>
<circle cx="702.9" cy="2169.1" r="6.2"/>
<circle cx="670.1" cy="2171.2" r="6.2"/>
<circle cx="926.3" cy="2170.9" r="6.2"/>
<circle cx="954.0" cy="2170.1" r="6.2"/>
<circle cx="896.4" cy="2170.9" r="6.2"/>
<circle cx="1012.7" cy="2170.4" r="6.2"/>
<circle cx="1049.2" cy="2171.2" r="6.2"/>
<circle cx="738.3" cy="2172.2" r="6.2"/>
<circle cx="712.7" cy="2173.0" r="6.2"/>
<circle cx="1024.6" cy="2172.2" r="6.2"/>
<circle cx="654.5" cy="2174.9" r="6.2"/>
<circle cx="793.3" cy="2174.4" r="6.2"/>
<circle cx="815.8" cy="2173.8" r="6.2"/>
<circle cx="904.3" cy="2174.4" r="6.2"/>
<circle cx="811.8" cy="2177.8" r="6.2"/>
<circle cx="885.6" cy="2178.6" r="6.2"/>
<circle cx="948.2" cy="2179.6" r="6.2"/>
<circle cx="1016.7" cy="2180.2" r="6.2"/>
<circle cx="985.7" cy="2186.5" r="6.2"/>
<circle cx="1039.1" cy="2185.5" r="6.2"/>
<circle cx="1045.7" cy="2186.3" r="6.2"/>
<circle cx="678.9" cy="2189.4" r="6.2"/>
<circle cx="763.7" cy="2188.9" r="6.2"/>
<circle cx="751.0" cy="2192.9" r="6.2"/>
<circle cx="957.7" cy="2193.4" r="6.2"/>
<circle cx="735.7" cy="2194.5" r="6.2"/>
<circle cx="858.1" cy="2194.5" r="6.2"/>
<circle cx="931.8" cy="2195.2" r="6.2"/>
<circle cx="813.7" cy="2195.2" r="6.2"/>
<circle cx="696.8" cy="2196.0" r="6.2"/>
<circle cx="708.7" cy="2197.4" r="6.2"/>
<circle cx="832.2" cy="2198.2" r="6.2"/>
<circle cx="946.6" cy="2199.5" r="6.2"/>
<circle cx="744.4" cy="2200.3" r="6.2"/>
<circle cx="981.5" cy="2200.5" r="6.2"/>
<circle cx="996.3" cy="2200.3" r="6.2"/>
<circle cx="757.6" cy="2202.1" r="6.2"/>
<circle cx="908.0" cy="2202.6" r="6.2"/>
<circle cx="1011.4" cy="2202.6" r="6.2"/>
<circle cx="895.1" cy="2203.4" r="6.2"/>
<circle cx="706.1" cy="2203.4" r="6.2"/>
<circle cx="653.2" cy="2204.8" r="6.2"/>
<circle cx="802.8" cy="2205.0" r="6.2"/>
<circle cx="760.3" cy="2206.1" r="6.2"/>
<circle cx="1033.3" cy="2207.9" r="6.2"/>
<circle cx="1046.5" cy="2208.2" r="6.2"/>
<circle cx="739.7" cy="2209.3" r="6.2"/>
<circle cx="872.6" cy="2209.5" r="6.2"/>
<circle cx="900.9" cy="2210.0" r="6.2"/>
<circle cx="892.4" cy="2211.9" r="6.2"/>
<circle cx="944.0" cy="2211.4" r="6.2"/>
<circle cx="693.7" cy="2219.3" r="6.2"/>
<circle cx="705.3" cy="2219.3" r="6.2"/>
<circle cx="880.0" cy="2219.3" r="6.2"/>
<circle cx="869.4" cy="2220.6" r="6.2"/>
<circle cx="952.2" cy="2220.1" r="6.2"/>
<circle cx="1059.8" cy="2219.3" r="6.2"/>
<circle cx="645.8" cy="2225.9" r="6.2"/>
<circle cx="789.6" cy="2226.4" r="6.2"/>
<circle cx="982.8" cy="2225.4" r="6.2"/>
<circle cx="990.2" cy="2225.9" r="6.2"/>
<circle cx="898.5" cy="2228.3" r="6.2"/>
<circle cx="701.3" cy="2231.7" r="6.2"/>
<circle cx="710.0" cy="2231.7" r="6.2"/>
<circle cx="719.3" cy="2231.7" r="6.2"/>
<circle cx="724.6" cy="2233.0" r="6.2"/>
<circle cx="744.9" cy="2232.0" r="6.2"/>
<circle cx="756.3" cy="2233.6" r="6.2"/>
<circle cx="965.4" cy="2233.6" r="6.2"/>
<circle cx="995.0" cy="2233.8" r="6.2"/>
<circle cx="1029.4" cy="2231.7" r="6.2"/>
<circle cx="808.1" cy="2237.3" r="6.2"/>
<circle cx="660.6" cy="2237.8" r="6.2"/>
<circle cx="1004.2" cy="2237.8" r="6.2"/>
<circle cx="1025.9" cy="2239.9" r="6.2"/>
<circle cx="741.8" cy="2241.2" r="6.2"/>
<circle cx="1007.7" cy="2244.4" r="6.2"/>
<circle cx="749.2" cy="2245.7" r="6.2"/>
<circle cx="727.2" cy="2246.3" r="6.2"/>
<circle cx="856.2" cy="2246.3" r="6.2"/>
<circle cx="959.3" cy="2247.1" r="6.2"/>
<circle cx="1053.7" cy="2246.3" r="6.2"/>
<circle cx="717.4" cy="2249.7" r="6.2"/>
<circle cx="791.5" cy="2250.8" r="6.2"/>
<circle cx="699.5" cy="2252.1" r="6.2"/>
<circle cx="863.9" cy="2261.9" r="6.2"/>
<circle cx="887.7" cy="2261.3" r="6.2"/>
<circle cx="658.5" cy="2266.1" r="6.2"/>
<circle cx="724.6" cy="2266.1" r="6.2"/>
<circle cx="731.2" cy="2266.9" r="6.2"/>
<circle cx="695.5" cy="2272.2" r="6.2"/>
<circle cx="734.6" cy="2274.0" r="6.2"/>
<circle cx="647.4" cy="2274.8" r="6.2"/>
<circle cx="881.9" cy="2275.1" r="6.2"/>
<circle cx="1000.0" cy="2278.8" r="6.2"/>
<circle cx="649.3" cy="2284.9" r="6.2"/>
<circle cx="878.4" cy="2296.5" r="6.2"/>
<circle cx="682.3" cy="2299.9" r="6.2"/>
<circle cx="664.3" cy="2301.8" r="6.2"/>
<circle cx="688.4" cy="2308.6" r="6.2"/>
<circle cx="728.6" cy="2320.5" r="6.2"/>
<circle cx="876.6" cy="2324.5" r="6.2"/>
<circle cx="991.0" cy="2325.0" r="6.2"/>
<circle cx="1032.0" cy="2323.7" r="6.2"/>
<circle cx="1027.2" cy="2326.9" r="6.2"/>
<circle cx="661.9" cy="2336.1" r="6.2"/>
<circle cx="732.3" cy="2338.0" r="6.2"/>
<circle cx="656.4" cy="2343.5" r="6.2"/>
<circle cx="644.0" cy="2359.4" r="6.2"/>
<circle cx="865.2" cy="2369.2" r="6.2"/>
<circle cx="1068.7" cy="2145.3" r="6.2"/>
<circle cx="1151.5" cy="2146.6" r="6.2"/>
<circle cx="1170.5" cy="2147.4" r="6.2"/>
<circle cx="1228.1" cy="2144.5" r="6.2"/>
<circle cx="1265.9" cy="2143.2" r="6.2"/>
<circle cx="1378.8" cy="2145.8" r="6.2"/>
<circle cx="1402.6" cy="2144.0" r="6.2"/>
<circle cx="1466.8" cy="2143.2" r="6.2"/>
<circle cx="1201.7" cy="2151.9" r="6.2"/>
<circle cx="1234.7" cy="2151.9" r="6.2"/>
<circle cx="1175.8" cy="2155.3" r="6.2"/>
<circle cx="1425.1" cy="2152.4" r="6.2"/>
<circle cx="1431.7" cy="2153.7" r="6.2"/>
<circle cx="1256.7" cy="2155.9" r="6.2"/>
<circle cx="1400.0" cy="2156.4" r="6.2"/>
<circle cx="1411.8" cy="2157.2" r="6.2"/>
<circle cx="1419.2" cy="2158.5" r="6.2"/>
<circle cx="1195.1" cy="2158.5" r="6.2"/>
<circle cx="1162.6" cy="2159.8" r="6.2"/>
<circle cx="1301.1" cy="2161.7" r="6.2"/>
<circle cx="1083.5" cy="2162.7" r="6.2"/>
<circle cx="1260.6" cy="2163.3" r="6.2"/>
<circle cx="1199.1" cy="2164.3" r="6.2"/>
<circle cx="1127.7" cy="2165.6" r="6.2"/>
<circle cx="1332.3" cy="2165.9" r="6.2"/>
<circle cx="1388.1" cy="2169.1" r="6.2"/>
<circle cx="1268.3" cy="2170.4" r="6.2"/>
<circle cx="1406.6" cy="2170.4" r="6.2"/>
<circle cx="1302.7" cy="2172.2" r="6.2"/>
<circle cx="1118.4" cy="2174.4" r="6.2"/>
<circle cx="1429.0" cy="2173.0" r="6.2"/>
<circle cx="1466.8" cy="2174.4" r="6.2"/>
<circle cx="1433.5" cy="2176.2" r="6.2"/>
<circle cx="1305.3" cy="2177.8" r="6.2"/>
<circle cx="1228.9" cy="2178.9" r="6.2"/>
<circle cx="1393.9" cy="2179.6" r="6.2"/>
<circle cx="1450.7" cy="2180.2" r="6.2"/>
<circle cx="1385.9" cy="2181.8" r="6.2"/>
<circle cx="1186.6" cy="2182.8" r="6.2"/>
<circle cx="1329.1" cy="2185.5" r="6.2"/>
<circle cx="1339.2" cy="2184.9" r="6.2"/>
<circle cx="1343.1" cy="2185.5" r="6.2"/>
<circle cx="1410.3" cy="2189.7" r="6.2"/>
<circle cx="1203.3" cy="2190.2" r="6.2"/>
<circle cx="1081.4" cy="2191.5" r="6.2"/>
<circle cx="1434.3" cy="2192.9" r="6.2"/>
<circle cx="1138.8" cy="2193.4" r="6.2"/>
<circle cx="1079.3" cy="2195.0" r="6.2"/>
<circle cx="1225.5" cy="2192.9" r="6.2"/>
<circle cx="1284.4" cy="2195.5" r="6.2"/>
<circle cx="1221.0" cy="2196.8" r="6.2"/>
<circle cx="1062.9" cy="2196.8" r="6.2"/>
<circle cx="1059.8" cy="2198.7" r="6.2"/>
<circle cx="1239.5" cy="2196.3" r="6.2"/>
<circle cx="1244.0" cy="2198.7" r="6.2"/>
<circle cx="1192.2" cy="2197.9" r="6.2"/>
<circle cx="1325.1" cy="2196.8" r="6.2"/>
<circle cx="1320.7" cy="2202.9" r="6.2"/>
<circle cx="1336.5" cy="2205.0" r="6.2"/>
<circle cx="1472.6" cy="2206.1" r="6.2"/>
<circle cx="1262.5" cy="2207.4" r="6.2"/>
<circle cx="1323.3" cy="2210.0" r="6.2"/>
<circle cx="1236.6" cy="2210.6" r="6.2"/>
<circle cx="1423.2" cy="2210.6" r="6.2"/>
<circle cx="1223.4" cy="2211.9" r="6.2"/>
<circle cx="1087.0" cy="2213.0" r="6.2"/>
<circle cx="1292.1" cy="2214.3" r="6.2"/>
<circle cx="1420.6" cy="2214.5" r="6.2"/>
<circle cx="1269.1" cy="2218.2" r="6.2"/>
<circle cx="1109.2" cy="2218.5" r="6.2"/>
<circle cx="1247.4" cy="2226.2" r="6.2"/>
<circle cx="1078.3" cy="2226.7" r="6.2"/>
<circle cx="1073.5" cy="2229.9" r="6.2"/>
<circle cx="1124.0" cy="2230.4" r="6.2"/>
<circle cx="1198.0" cy="2230.7" r="6.2"/>
<circle cx="1358.5" cy="2232.8" r="6.2"/>
<circle cx="1456.3" cy="2232.8" r="6.2"/>
<circle cx="1258.5" cy="2235.2" r="6.2"/>
<circle cx="1214.4" cy="2237.0" r="6.2"/>
<circle cx="1299.5" cy="2237.0" r="6.2"/>
<circle cx="1118.4" cy="2237.8" r="6.2"/>
<circle cx="1179.2" cy="2239.9" r="6.2"/>
<circle cx="1307.4" cy="2239.4" r="6.2"/>
<circle cx="1173.4" cy="2241.8" r="6.2"/>
<circle cx="1287.6" cy="2241.8" r="6.2"/>
<circle cx="1114.5" cy="2241.8" r="6.2"/>
<circle cx="1090.7" cy="2243.9" r="6.2"/>
<circle cx="1271.8" cy="2243.1" r="6.2"/>
<circle cx="1277.0" cy="2246.3" r="6.2"/>
<circle cx="1110.5" cy="2246.3" r="6.2"/>
<circle cx="1209.1" cy="2247.8" r="6.2"/>
<circle cx="1465.5" cy="2247.6" r="6.2"/>
<circle cx="1207.0" cy="2252.3" r="6.2"/>
<circle cx="1070.3" cy="2254.2" r="6.2"/>
<circle cx="1264.1" cy="2253.9" r="6.2"/>
<circle cx="1295.5" cy="2255.5" r="6.2"/>
<circle cx="1113.2" cy="2260.0" r="6.2"/>
<circle cx="1205.1" cy="2261.1" r="6.2"/>
<circle cx="1094.6" cy="2261.6" r="6.2"/>
<circle cx="1278.9" cy="2262.1" r="6.2"/>
<circle cx="1293.7" cy="2260.3" r="6.2"/>
<circle cx="1281.5" cy="2268.2" r="6.2"/>
<circle cx="1287.6" cy="2269.5" r="6.2"/>
<circle cx="1103.6" cy="2269.5" r="6.2"/>
<circle cx="1194.3" cy="2269.3" r="6.2"/>
<circle cx="1210.7" cy="2281.9" r="6.2"/>
<circle cx="1249.8" cy="2285.1" r="6.2"/>
<circle cx="1092.5" cy="2285.4" r="6.2"/>
<circle cx="1273.6" cy="2285.1" r="6.2"/>
<circle cx="1308.8" cy="2285.1" r="6.2"/>
<circle cx="1076.1" cy="2291.7" r="6.2"/>
<circle cx="1290.3" cy="2293.6" r="6.2"/>
<circle cx="1105.8" cy="2296.7" r="6.2"/>
<circle cx="1072.2" cy="2299.1" r="6.2"/>
<circle cx="1220.7" cy="2299.4" r="6.2"/>
<circle cx="1212.3" cy="2302.6" r="6.2"/>
<circle cx="1099.9" cy="2302.0" r="6.2"/>
<circle cx="1218.1" cy="2312.3" r="6.2"/>
<circle cx="1088.8" cy="2314.5" r="6.2"/>
<circle cx="1107.3" cy="2322.4" r="6.2"/>
<circle cx="1277.0" cy="2330.1" r="6.2"/>
<circle cx="1098.1" cy="2330.8" r="6.2"/>
<circle cx="1330.7" cy="2333.2" r="6.2"/>
<circle cx="1096.0" cy="2338.2" r="6.2"/>
<circle cx="1102.1" cy="2342.2" r="6.2"/>
<circle cx="1312.2" cy="2351.5" r="6.2"/>
<circle cx="1281.0" cy="2358.3" r="6.2"/>
<circle cx="1395.5" cy="2368.1" r="6.2"/>
<circle cx="1310.6" cy="2369.4" r="6.2"/>
<circle cx="1120.6" cy="2389.3" r="6.2"/>
<circle cx="1319.9" cy="2427.3" r="6.2"/>
<circle cx="1314.0" cy="2434.2" r="6.2"/>
<circle cx="1316.7" cy="2445.8" r="6.2"/>
<circle cx="1517.6" cy="2144.8" r="6.2"/>
<circle cx="1546.7" cy="2153.2" r="6.2"/>
<circle cx="1566.5" cy="2147.1" r="6.2"/>
<circle cx="1594.2" cy="2149.8" r="6.2"/>
<circle cx="1631.8" cy="2143.2" r="6.2"/>
<circle cx="1626.0" cy="2151.9" r="6.2"/>
<circle cx="1845.4" cy="2146.6" r="6.2"/>
<circle cx="1504.4" cy="2150.6" r="6.2"/>
<circle cx="1491.1" cy="2151.9" r="6.2"/>
<circle cx="1644.5" cy="2152.7" r="6.2"/>
<circle cx="1665.1" cy="2151.4" r="6.2"/>
<circle cx="1805.2" cy="2152.7" r="6.2"/>
<circle cx="1760.8" cy="2153.7" r="6.2"/>
<circle cx="1718.5" cy="2153.7" r="6.2"/>
<circle cx="1702.1" cy="2156.4" r="6.2"/>
<circle cx="1852.0" cy="2156.4" r="6.2"/>
<circle cx="1477.9" cy="2158.5" r="6.2"/>
<circle cx="1487.2" cy="2159.8" r="6.2"/>
<circle cx="1591.1" cy="2158.0" r="6.2"/>
<circle cx="1726.4" cy="2160.6" r="6.2"/>
<circle cx="1792.5" cy="2161.9" r="6.2"/>
<circle cx="1768.2" cy="2164.3" r="6.2"/>
<circle cx="1578.4" cy="2165.6" r="6.2"/>
<circle cx="1758.1" cy="2166.4" r="6.2"/>
<circle cx="1707.4" cy="2165.9" r="6.2"/>
<circle cx="1849.3" cy="2165.1" r="6.2"/>
<circle cx="1474.0" cy="2168.5" r="6.2"/>
<circle cx="1622.8" cy="2168.3" r="6.2"/>
<circle cx="1845.9" cy="2170.4" r="6.2"/>
<circle cx="1779.3" cy="2174.4" r="6.2"/>
<circle cx="1576.5" cy="2174.4" r="6.2"/>
<circle cx="1752.0" cy="2175.2" r="6.2"/>
<circle cx="1499.1" cy="2177.8" r="6.2"/>
<circle cx="1509.1" cy="2175.7" r="6.2"/>
<circle cx="1676.2" cy="2177.8" r="6.2"/>
<circle cx="1688.9" cy="2178.9" r="6.2"/>
<circle cx="1613.5" cy="2180.2" r="6.2"/>
<circle cx="1652.4" cy="2179.6" r="6.2"/>
<circle cx="1721.9" cy="2180.4" r="6.2"/>
<circle cx="1516.3" cy="2181.5" r="6.2"/>
<circle cx="1555.9" cy="2181.5" r="6.2"/>
<circle cx="1792.5" cy="2181.8" r="6.2"/>
<circle cx="1571.8" cy="2183.6" r="6.2"/>
<circle cx="1744.9" cy="2186.3" r="6.2"/>
<circle cx="1541.4" cy="2187.6" r="6.2"/>
<circle cx="1624.6" cy="2186.8" r="6.2"/>
<circle cx="1604.0" cy="2187.1" r="6.2"/>
<circle cx="1834.8" cy="2187.6" r="6.2"/>
<circle cx="1683.6" cy="2188.9" r="6.2"/>
<circle cx="1818.4" cy="2192.1" r="6.2"/>
<circle cx="1844.0" cy="2192.1" r="6.2"/>
<circle cx="1785.9" cy="2192.1" r="6.2"/>
<circle cx="1513.1" cy="2194.2" r="6.2"/>
<circle cx="1797.0" cy="2194.2" r="6.2"/>
<circle cx="1749.7" cy="2194.7" r="6.2"/>
<circle cx="1770.5" cy="2196.0" r="6.2"/>
<circle cx="1684.1" cy="2195.5" r="6.2"/>
<circle cx="1670.4" cy="2200.0" r="6.2"/>
<circle cx="1509.6" cy="2200.3" r="6.2"/>
<circle cx="1481.9" cy="2201.3" r="6.2"/>
<circle cx="1837.4" cy="2201.3" r="6.2"/>
<circle cx="1599.5" cy="2203.4" r="6.2"/>
<circle cx="1686.8" cy="2203.4" r="6.2"/>
<circle cx="1500.4" cy="2203.4" r="6.2"/>
<circle cx="1787.2" cy="2203.4" r="6.2"/>
<circle cx="1485.9" cy="2206.1" r="6.2"/>
<circle cx="1731.7" cy="2206.1" r="6.2"/>
<circle cx="1562.5" cy="2207.4" r="6.2"/>
<circle cx="1607.5" cy="2208.2" r="6.2"/>
<circle cx="1672.2" cy="2208.2" r="6.2"/>
<circle cx="1798.3" cy="2210.0" r="6.2"/>
<circle cx="1765.3" cy="2211.9" r="6.2"/>
<circle cx="1543.5" cy="2214.0" r="6.2"/>
<circle cx="1558.0" cy="2214.8" r="6.2"/>
<circle cx="1522.3" cy="2216.1" r="6.2"/>
<circle cx="1753.4" cy="2215.3" r="6.2"/>
<circle cx="1618.8" cy="2216.7" r="6.2"/>
<circle cx="1703.9" cy="2220.6" r="6.2"/>
<circle cx="1663.2" cy="2219.3" r="6.2"/>
<circle cx="1801.2" cy="2220.1" r="6.2"/>
<circle cx="1825.5" cy="2220.1" r="6.2"/>
<circle cx="1833.5" cy="2219.3" r="6.2"/>
<circle cx="1526.0" cy="2224.6" r="6.2"/>
<circle cx="1537.9" cy="2224.1" r="6.2"/>
<circle cx="1598.7" cy="2225.1" r="6.2"/>
<circle cx="1809.1" cy="2225.9" r="6.2"/>
<circle cx="1755.5" cy="2227.5" r="6.2"/>
<circle cx="1617.2" cy="2228.0" r="6.2"/>
<circle cx="1694.7" cy="2228.8" r="6.2"/>
<circle cx="1495.1" cy="2229.3" r="6.2"/>
<circle cx="1679.9" cy="2232.8" r="6.2"/>
<circle cx="1506.2" cy="2233.8" r="6.2"/>
<circle cx="1548.8" cy="2236.5" r="6.2"/>
<circle cx="1493.3" cy="2237.8" r="6.2"/>
<circle cx="1807.0" cy="2236.5" r="6.2"/>
<circle cx="1829.5" cy="2239.1" r="6.2"/>
<circle cx="1735.1" cy="2241.0" r="6.2"/>
<circle cx="1799.6" cy="2241.8" r="6.2"/>
<circle cx="1819.7" cy="2241.2" r="6.2"/>
<circle cx="1539.5" cy="2242.6" r="6.2"/>
<circle cx="1739.6" cy="2244.9" r="6.2"/>
<circle cx="1524.7" cy="2245.5" r="6.2"/>
<circle cx="1484.0" cy="2246.0" r="6.2"/>
<circle cx="1811.0" cy="2245.7" r="6.2"/>
<circle cx="1620.7" cy="2247.8" r="6.2"/>
<circle cx="1654.2" cy="2250.2" r="6.2"/>
<circle cx="1737.0" cy="2251.5" r="6.2"/>
<circle cx="1789.0" cy="2251.5" r="6.2"/>
<circle cx="1502.5" cy="2256.6" r="6.2"/>
<circle cx="1674.3" cy="2258.4" r="6.2"/>
<circle cx="1602.2" cy="2261.1" r="6.2"/>
<circle cx="1742.3" cy="2262.1" r="6.2"/>
<circle cx="1831.6" cy="2263.4" r="6.2"/>
<circle cx="1691.2" cy="2271.1" r="6.2"/>
<circle cx="1530.8" cy="2276.7" r="6.2"/>
<circle cx="1534.8" cy="2278.0" r="6.2"/>
<circle cx="1812.3" cy="2279.6" r="6.2"/>
<circle cx="1817.1" cy="2280.1" r="6.2"/>
<circle cx="1497.0" cy="2281.4" r="6.2"/>
<circle cx="1696.5" cy="2283.3" r="6.2"/>
<circle cx="1827.6" cy="2289.9" r="6.2"/>
<circle cx="1668.8" cy="2292.5" r="6.2"/>
<circle cx="1739.1" cy="2292.8" r="6.2"/>
<circle cx="1489.8" cy="2298.1" r="6.2"/>
<circle cx="1724.0" cy="2301.0" r="6.2"/>
<circle cx="1692.8" cy="2301.5" r="6.2"/>
<circle cx="1757.6" cy="2304.9" r="6.2"/>
<circle cx="1821.8" cy="2308.9" r="6.2"/>
<circle cx="1535.8" cy="2319.5" r="6.2"/>
<circle cx="1766.3" cy="2350.1" r="6.2"/>
<circle cx="1521.0" cy="2351.5" r="6.2"/>
<circle cx="1528.4" cy="2370.5" r="6.2"/>
</g>
<rect x="226.0" y="1821.0" width="1657.5" height="637.9" fill="none" stroke="#000" stroke-width="5.9"/>
<text class="b" font-size="42.5" text-anchor="end" transform="translate(190.50 1908.82) scale(1 1.05)">80</text>
<text class="b" font-size="42.5" text-anchor="end" transform="translate(190.50 2039.61) scale(1 1.05)">40</text>
<text class="b" font-size="42.5" text-anchor="end" transform="translate(190.50 2170.40) scale(1 1.05)">0</text>
<text class="b" font-size="42.5" text-anchor="end" transform="translate(190.50 2301.19) scale(1 1.05)">40</text>
<rect x="120.5" y="2288.94" width="21.6" height="5.3" fill="#000"/>
<text class="b" font-size="42.5" text-anchor="end" transform="translate(190.50 2431.98) scale(1 1.05)">80</text>
<rect x="120.5" y="2419.73" width="21.6" height="5.3" fill="#000"/>
<text class="b" font-size="42.5" text-anchor="middle" transform="translate(258.00 2524.90) scale(1 1.05)">0</text>
<text class="b" font-size="42.5" text-anchor="middle" transform="translate(390.96 2524.90) scale(1 1.05)">6</text>
<path transform="translate(500.68 2524.90) scale(42.5 -42.5)" d="M.3557 .707L.255 .707C.24 .63 .17 .5875 .0493 .5875L.0493 .489L.213 .489L.213 0L.3557 0Z"/>
<text class="b" font-size="42.5" text-anchor="start" transform="translate(523.91 2524.90) scale(1 1.05)">2</text>
<path transform="translate(633.64 2524.90) scale(42.5 -42.5)" d="M.3557 .707L.255 .707C.24 .63 .17 .5875 .0493 .5875L.0493 .489L.213 .489L.213 0L.3557 0Z"/>
<text class="b" font-size="42.5" text-anchor="start" transform="translate(656.87 2524.90) scale(1 1.05)">8</text>
<text class="b" font-size="42.5" text-anchor="middle" transform="translate(789.83 2524.90) scale(1 1.05)">24</text>
<text class="b" font-size="42.5" text-anchor="middle" transform="translate(922.78 2524.90) scale(1 1.05)">30</text>
<text class="b" font-size="42.5" text-anchor="middle" transform="translate(1055.74 2524.90) scale(1 1.05)">36</text>
<text class="b" font-size="42.5" text-anchor="middle" transform="translate(1188.69 2524.90) scale(1 1.05)">42</text>
<text class="b" font-size="42.5" text-anchor="middle" transform="translate(1321.65 2524.90) scale(1 1.05)">48</text>
<text class="b" font-size="42.5" text-anchor="middle" transform="translate(1454.61 2524.90) scale(1 1.05)">54</text>
<text class="b" font-size="42.5" text-anchor="middle" transform="translate(1587.56 2524.90) scale(1 1.05)">60</text>
<text class="b" font-size="42.5" text-anchor="middle" transform="translate(1720.52 2524.90) scale(1 1.05)">66</text>
<text class="b" font-size="42.5" text-anchor="middle" transform="translate(1853.48 2524.90) scale(1 1.05)">72</text>
<text font-size="42.4" text-anchor="middle" transform="translate(89.90 2139.95) rotate(-90) scale(1 1.044)">Up (mm)</text>
<text font-size="42.7" text-anchor="middle" transform="translate(1053.80 2583.90) scale(1 1.044)">Time (hours since beginning of first day UTC)</text>
<rect x="226.0" y="2688.0" width="1657.5" height="153" fill="none" stroke="#000" stroke-width="5.9"/>
<text class="b" font-size="42.8" text-anchor="middle" transform="translate(1055.20 2727.00) scale(1 1.057)">Processed Using JPL Rapid Orbits</text>
<text class="b" font-size="42.8" text-anchor="middle" transform="translate(1055.20 2766.90) scale(1 1.057)">by the Nevada Geodetic Laboratory.</text>
<text class="b" font-size="42.6" text-anchor="end" transform="translate(1233.30 2808.00) scale(1 1.057)">Plotted on 2026-Jan-</text>
<path transform="translate(1233.90 2808.00) scale(42.8 -42.8)" d="M.3557 .707L.255 .707C.24 .63 .17 .5875 .0493 .5875L.0493 .489L.213 .489L.213 0L.3557 0Z"/>
<path transform="translate(1257.94 2808.00) scale(42.8 -42.8)" d="M.3557 .707L.255 .707C.24 .63 .17 .5875 .0493 .5875L.0493 .489L.213 .489L.213 0L.3557 0Z"/>
<text class="b" font-size="42.8" text-anchor="start" transform="translate(1280.20 2808.00) scale(1 1.057)">.</text>
</svg>
</body></html>
